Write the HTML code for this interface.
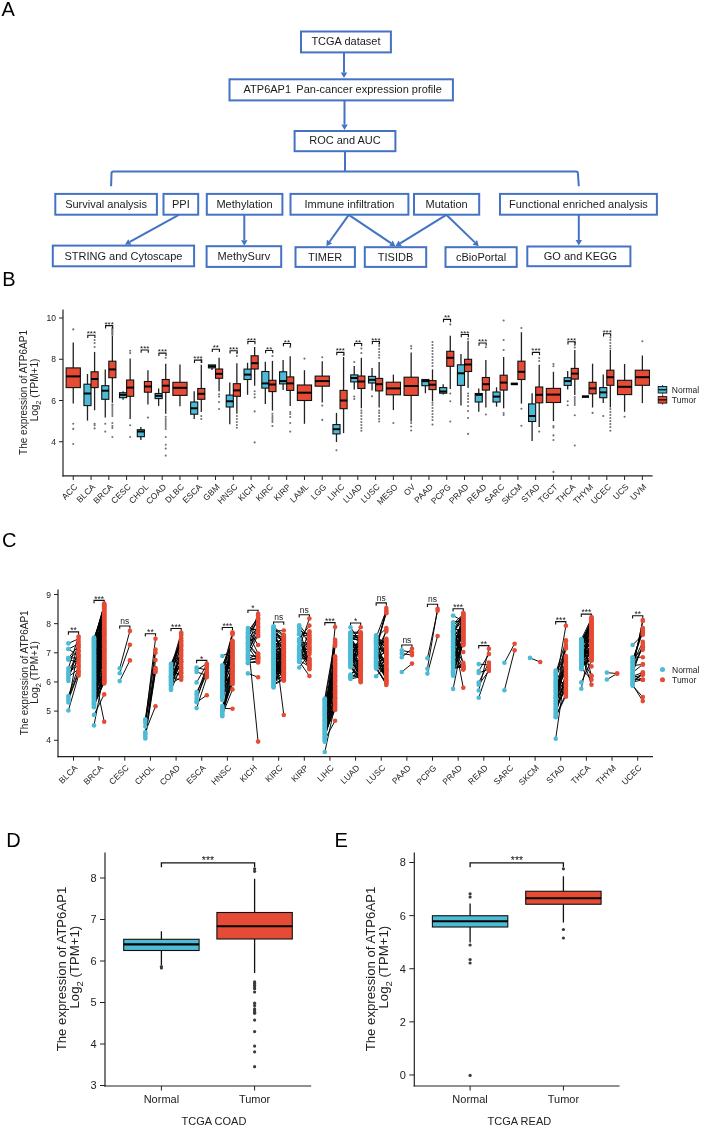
<!DOCTYPE html>
<html><head><meta charset="utf-8"><title>Figure</title>
<style>html,body{margin:0;padding:0;background:#fff;}svg{display:block;will-change:transform;}text{font-family:"Liberation Sans", sans-serif;}</style>
</head><body>
<svg width="711" height="1127" viewBox="0 0 711 1127">
<rect width="711" height="1127" fill="#fff"/>
<text x="1.5" y="15.7" font-size="20" fill="#000">A</text>
<text x="2.2" y="286.1" font-size="20" fill="#000">B</text>
<text x="2.0" y="547.0" font-size="20" fill="#000">C</text>
<text x="6.3" y="847.0" font-size="20" fill="#000">D</text>
<text x="334.5" y="847.0" font-size="20" fill="#000">E</text>
<rect x="301" y="31.5" width="89.89999999999998" height="20.9" fill="#fff" stroke="#4472C4" stroke-width="2"/>
<text x="345.95" y="44.85" font-size="11" fill="#1c1c1c" text-anchor="middle" style="white-space:pre">TCGA dataset</text>
<rect x="229.5" y="79.3" width="223.39999999999998" height="21.10000000000001" fill="#fff" stroke="#4472C4" stroke-width="2"/>
<text x="342.7" y="92.75" font-size="11" fill="#1c1c1c" text-anchor="middle" style="white-space:pre">ATP6AP1  Pan-cancer expression profile</text>
<rect x="294.6" y="131" width="100.79999999999995" height="20.200000000000017" fill="#fff" stroke="#4472C4" stroke-width="2"/>
<text x="345.0" y="144.00000000000003" font-size="11" fill="#1c1c1c" text-anchor="middle" style="white-space:pre">ROC and AUC</text>
<rect x="55.3" y="193.9" width="101.60000000000001" height="20.80000000000001" fill="#fff" stroke="#4472C4" stroke-width="2"/>
<text x="106.1" y="208.0" font-size="11" fill="#1c1c1c" text-anchor="middle" style="white-space:pre">Survival analysis</text>
<rect x="163.5" y="193.9" width="34.70000000000002" height="20.80000000000001" fill="#fff" stroke="#4472C4" stroke-width="2"/>
<text x="180.85000000000002" y="208.0" font-size="11" fill="#1c1c1c" text-anchor="middle" style="white-space:pre">PPI</text>
<rect x="206.8" y="193.9" width="75.59999999999997" height="20.80000000000001" fill="#fff" stroke="#4472C4" stroke-width="2"/>
<text x="244.6" y="208.0" font-size="11" fill="#1c1c1c" text-anchor="middle" style="white-space:pre">Methylation</text>
<rect x="290.5" y="193.9" width="117.89999999999998" height="20.80000000000001" fill="#fff" stroke="#4472C4" stroke-width="2"/>
<text x="349.45" y="208.0" font-size="11" fill="#1c1c1c" text-anchor="middle" style="white-space:pre">Immune infiltration</text>
<rect x="414" y="193.9" width="65.19999999999999" height="20.80000000000001" fill="#fff" stroke="#4472C4" stroke-width="2"/>
<text x="446.6" y="208.0" font-size="11" fill="#1c1c1c" text-anchor="middle" style="white-space:pre">Mutation</text>
<rect x="500" y="193.9" width="156.89999999999998" height="20.80000000000001" fill="#fff" stroke="#4472C4" stroke-width="2"/>
<text x="578.45" y="208.0" font-size="11" fill="#1c1c1c" text-anchor="middle" style="white-space:pre">Functional enriched analysis</text>
<rect x="52.8" y="245.6" width="141.3" height="20.69999999999996" fill="#fff" stroke="#4472C4" stroke-width="2"/>
<text x="123.44999999999999" y="259.65" font-size="11" fill="#1c1c1c" text-anchor="middle" style="white-space:pre">STRING and Cytoscape</text>
<rect x="206.6" y="246.2" width="74.6" height="20.69999999999999" fill="#fff" stroke="#4472C4" stroke-width="2"/>
<text x="243.89999999999998" y="260.24999999999994" font-size="11" fill="#1c1c1c" text-anchor="middle" style="white-space:pre">MethySurv</text>
<rect x="295.5" y="247.2" width="59.39999999999998" height="19.69999999999999" fill="#fff" stroke="#4472C4" stroke-width="2"/>
<text x="325.2" y="260.74999999999994" font-size="11" fill="#1c1c1c" text-anchor="middle" style="white-space:pre">TIMER</text>
<rect x="364.8" y="247.2" width="61.39999999999998" height="19.69999999999999" fill="#fff" stroke="#4472C4" stroke-width="2"/>
<text x="395.5" y="260.74999999999994" font-size="11" fill="#1c1c1c" text-anchor="middle" style="white-space:pre">TISIDB</text>
<rect x="445.5" y="247.2" width="71.19999999999993" height="19.69999999999999" fill="#fff" stroke="#4472C4" stroke-width="2"/>
<text x="481.09999999999997" y="260.74999999999994" font-size="11" fill="#1c1c1c" text-anchor="middle" style="white-space:pre">cBioPortal</text>
<rect x="527.3" y="246.5" width="103.10000000000002" height="19.69999999999999" fill="#fff" stroke="#4472C4" stroke-width="2"/>
<text x="580.4499999999999" y="260.05" font-size="11" fill="#1c1c1c" text-anchor="middle" style="white-space:pre">GO and KEGG</text>
<line x1="344" y1="52.5" x2="344.0" y2="72.5" stroke="#4472C4" stroke-width="2"/>
<polygon points="344,78 340.8,72.5 347.2,72.5" fill="#4472C4"/>
<line x1="344.5" y1="100.5" x2="344.5" y2="124.5" stroke="#4472C4" stroke-width="2"/>
<polygon points="344.5,130 341.3,124.5 347.7,124.5" fill="#4472C4"/>
<line x1="345" y1="151" x2="345" y2="172" stroke="#4472C4" stroke-width="2"/>
<path d="M111.1,186.2 L111.5,173.3 Q111.6,171.5 113.4,171.5 L576,171.5 Q577.8,171.5 577.9,173.3 L578.8,186.2" fill="none" stroke="#4472C4" stroke-width="2"/>
<line x1="244.3" y1="214.8" x2="244.3" y2="240.2" stroke="#4472C4" stroke-width="2"/>
<polygon points="244.3,245.7 241.10000000000002,240.2 247.5,240.2" fill="#4472C4"/>
<line x1="578.8" y1="214.8" x2="578.8" y2="240.0" stroke="#4472C4" stroke-width="2"/>
<polygon points="578.8,245.5 575.5999999999999,240.0 582.0,240.0" fill="#4472C4"/>
<line x1="178.8" y1="214.8" x2="129.81123582954348" y2="241.9350403769443" stroke="#4472C4" stroke-width="2"/>
<polygon points="125,244.6 128.26071386703836,239.13577589430082 131.3617577920486,244.73430485958778" fill="#4472C4"/>
<line x1="348.8" y1="214.8" x2="329.5035406161113" y2="241.72928109573803" stroke="#4472C4" stroke-width="2"/>
<polygon points="326.3,246.2 326.90239507181343,239.86540291909145 332.1046861604092,243.5931592723846" fill="#4472C4"/>
<line x1="348.8" y1="214.8" x2="390.93578784244596" y2="243.13112929877522" stroke="#4472C4" stroke-width="2"/>
<polygon points="395.5,246.2 389.1502630708243,245.78667091771575 392.72131261406764,240.4755876798347" fill="#4472C4"/>
<line x1="446.3" y1="214.8" x2="400.1784199098175" y2="243.30822076440415" stroke="#4472C4" stroke-width="2"/>
<polygon points="395.5,246.2 398.49593017274356,240.58623099869217 401.8609096468914,246.03021053011614" fill="#4472C4"/>
<line x1="446.3" y1="214.8" x2="474.8445504354676" y2="242.3784271899595" stroke="#4472C4" stroke-width="2"/>
<polygon points="478.8,246.2 472.62108989144406,244.67977966386923 477.0680109794912,240.07707471604976" fill="#4472C4"/>
<line x1="73.25" y1="342.6" x2="73.25" y2="403.6" stroke="#222" stroke-width="1.3"/><rect x="66.15" y="367.9" width="14.199999999999989" height="19.700000000000045" fill="#E64B35" stroke="#111" stroke-width="1.1"/><line x1="66.15" y1="376.4" x2="80.35" y2="376.4" stroke="#000" stroke-width="2.0"/><circle cx="73.25" cy="329.4" r="1.05" fill="#707070"/><circle cx="73.25" cy="423.8" r="1.05" fill="#707070"/><circle cx="73.25" cy="428.9" r="1.05" fill="#707070"/><circle cx="73.25" cy="444" r="1.05" fill="#707070"/>
<line x1="87.485" y1="374" x2="87.485" y2="420.6" stroke="#222" stroke-width="1.3"/><rect x="83.935" y="384.2" width="7.099999999999994" height="21.400000000000034" fill="#4DBBD5" stroke="#111" stroke-width="1.1"/><line x1="83.935" y1="393.5" x2="91.035" y2="393.5" stroke="#000" stroke-width="2.0"/>
<line x1="94.585" y1="351.9" x2="94.585" y2="410.2" stroke="#222" stroke-width="1.3"/><rect x="91.035" y="371.8" width="7.099999999999994" height="15.800000000000011" fill="#E64B35" stroke="#111" stroke-width="1.1"/><line x1="91.035" y1="379" x2="98.13499999999999" y2="379" stroke="#000" stroke-width="2.0"/><circle cx="94.585" cy="340" r="1.05" fill="#707070"/><circle cx="94.585" cy="343" r="1.05" fill="#707070"/><circle cx="94.585" cy="347" r="1.05" fill="#707070"/><circle cx="94.585" cy="423.8" r="1.05" fill="#707070"/><circle cx="94.585" cy="425.3" r="1.05" fill="#707070"/><circle cx="94.585" cy="428.4" r="1.05" fill="#707070"/>
<path d="M87.785,338.1 L87.785,335.3 L94.88499999999999,335.3 L94.88499999999999,338.1" fill="none" stroke="#111" stroke-width="1.1"/>
<text x="91.335" y="336.3" font-size="8" fill="#111" text-anchor="middle">***</text>
<line x1="105.27" y1="369.4" x2="105.27" y2="417.6" stroke="#222" stroke-width="1.3"/><rect x="101.72" y="385.7" width="7.099999999999994" height="13.600000000000023" fill="#4DBBD5" stroke="#111" stroke-width="1.1"/><line x1="101.72" y1="390.7" x2="108.82" y2="390.7" stroke="#000" stroke-width="2.0"/><circle cx="105.27" cy="423.8" r="1.05" fill="#707070"/><circle cx="105.27" cy="431.6" r="1.05" fill="#707070"/>
<line x1="112.36999999999999" y1="336" x2="112.36999999999999" y2="402.8" stroke="#222" stroke-width="1.3"/><rect x="108.82" y="361.2" width="7.099999999999994" height="16.5" fill="#E64B35" stroke="#111" stroke-width="1.1"/><line x1="108.82" y1="369.4" x2="115.91999999999999" y2="369.4" stroke="#000" stroke-width="2.0"/><circle cx="112.36999999999999" cy="328" r="1.05" fill="#707070"/><circle cx="112.36999999999999" cy="329" r="1.05" fill="#707070"/><circle cx="112.36999999999999" cy="330" r="1.05" fill="#707070"/><circle cx="112.36999999999999" cy="331" r="1.05" fill="#707070"/><circle cx="112.36999999999999" cy="332" r="1.05" fill="#707070"/><circle cx="112.36999999999999" cy="333" r="1.05" fill="#707070"/><circle cx="112.36999999999999" cy="334" r="1.05" fill="#707070"/><circle cx="112.36999999999999" cy="335" r="1.05" fill="#707070"/><circle cx="112.36999999999999" cy="404.5" r="1.05" fill="#707070"/><circle cx="112.36999999999999" cy="406" r="1.05" fill="#707070"/><circle cx="112.36999999999999" cy="408" r="1.05" fill="#707070"/><circle cx="112.36999999999999" cy="410" r="1.05" fill="#707070"/><circle cx="112.36999999999999" cy="412" r="1.05" fill="#707070"/><circle cx="112.36999999999999" cy="414" r="1.05" fill="#707070"/><circle cx="112.36999999999999" cy="416" r="1.05" fill="#707070"/><circle cx="112.36999999999999" cy="423" r="1.05" fill="#707070"/><circle cx="112.36999999999999" cy="426" r="1.05" fill="#707070"/><circle cx="112.36999999999999" cy="428" r="1.05" fill="#707070"/><circle cx="112.36999999999999" cy="437" r="1.05" fill="#707070"/>
<path d="M105.57,328.40000000000003 L105.57,325.6 L112.66999999999999,325.6 L112.66999999999999,328.40000000000003" fill="none" stroke="#111" stroke-width="1.1"/>
<text x="109.11999999999999" y="326.6" font-size="8" fill="#111" text-anchor="middle">***</text>
<line x1="123.055" y1="391.2" x2="123.055" y2="399.7" stroke="#222" stroke-width="1.3"/><rect x="119.50500000000001" y="392.7" width="7.099999999999994" height="5.0" fill="#4DBBD5" stroke="#111" stroke-width="1.1"/><line x1="119.50500000000001" y1="394.8" x2="126.605" y2="394.8" stroke="#000" stroke-width="2.0"/>
<line x1="130.155" y1="358.6" x2="130.155" y2="419.1" stroke="#222" stroke-width="1.3"/><rect x="126.605" y="380" width="7.1000000000000085" height="16.30000000000001" fill="#E64B35" stroke="#111" stroke-width="1.1"/><line x1="126.605" y1="387.6" x2="133.705" y2="387.6" stroke="#000" stroke-width="2.0"/><circle cx="130.155" cy="350.8" r="1.05" fill="#707070"/><circle cx="130.155" cy="353.1" r="1.05" fill="#707070"/><circle cx="130.155" cy="425.3" r="1.05" fill="#707070"/><circle cx="130.155" cy="437" r="1.05" fill="#707070"/>
<line x1="140.83999999999997" y1="426.9" x2="140.83999999999997" y2="440" stroke="#222" stroke-width="1.3"/><rect x="137.29" y="429.7" width="7.099999999999994" height="7.0" fill="#4DBBD5" stroke="#111" stroke-width="1.1"/><line x1="137.29" y1="431.5" x2="144.39" y2="431.5" stroke="#000" stroke-width="2.0"/>
<line x1="147.94" y1="370.2" x2="147.94" y2="404.4" stroke="#222" stroke-width="1.3"/><rect x="144.39" y="381.5" width="7.099999999999994" height="10.699999999999989" fill="#E64B35" stroke="#111" stroke-width="1.1"/><line x1="144.39" y1="386.5" x2="151.48999999999998" y2="386.5" stroke="#000" stroke-width="2.0"/><circle cx="147.94" cy="417.6" r="1.05" fill="#707070"/>
<path d="M141.14,352.8 L141.14,350 L148.24,350 L148.24,352.8" fill="none" stroke="#111" stroke-width="1.1"/>
<text x="144.69" y="351.0" font-size="8" fill="#111" text-anchor="middle">***</text>
<line x1="158.625" y1="388.4" x2="158.625" y2="405.9" stroke="#222" stroke-width="1.3"/><rect x="155.07500000000002" y="393.5" width="7.099999999999994" height="5.100000000000023" fill="#4DBBD5" stroke="#111" stroke-width="1.1"/><line x1="155.07500000000002" y1="395.8" x2="162.175" y2="395.8" stroke="#000" stroke-width="2.0"/>
<line x1="165.72500000000002" y1="363.7" x2="165.72500000000002" y2="413.7" stroke="#222" stroke-width="1.3"/><rect x="162.175" y="379.5" width="7.099999999999994" height="12.899999999999977" fill="#E64B35" stroke="#111" stroke-width="1.1"/><line x1="162.175" y1="385.7" x2="169.275" y2="385.7" stroke="#000" stroke-width="2.0"/><circle cx="165.72500000000002" cy="357.8" r="1.05" fill="#707070"/><circle cx="165.72500000000002" cy="416.8" r="1.05" fill="#707070"/><circle cx="165.72500000000002" cy="419" r="1.05" fill="#707070"/><circle cx="165.72500000000002" cy="421" r="1.05" fill="#707070"/><circle cx="165.72500000000002" cy="423" r="1.05" fill="#707070"/><circle cx="165.72500000000002" cy="425" r="1.05" fill="#707070"/><circle cx="165.72500000000002" cy="427" r="1.05" fill="#707070"/><circle cx="165.72500000000002" cy="429" r="1.05" fill="#707070"/><circle cx="165.72500000000002" cy="437" r="1.05" fill="#707070"/><circle cx="165.72500000000002" cy="444.8" r="1.05" fill="#707070"/><circle cx="165.72500000000002" cy="448.6" r="1.05" fill="#707070"/><circle cx="165.72500000000002" cy="455.6" r="1.05" fill="#707070"/>
<path d="M158.925,355.90000000000003 L158.925,353.1 L166.02500000000003,353.1 L166.02500000000003,355.90000000000003" fill="none" stroke="#111" stroke-width="1.1"/>
<text x="162.47500000000002" y="354.1" font-size="8" fill="#111" text-anchor="middle">***</text>
<line x1="179.96" y1="364.5" x2="179.96" y2="406.2" stroke="#222" stroke-width="1.3"/><rect x="172.86" y="382.3" width="14.199999999999989" height="13.099999999999966" fill="#E64B35" stroke="#111" stroke-width="1.1"/><line x1="172.86" y1="387.8" x2="187.06" y2="387.8" stroke="#000" stroke-width="2.0"/>
<line x1="194.195" y1="391.2" x2="194.195" y2="419.1" stroke="#222" stroke-width="1.3"/><rect x="190.645" y="402" width="7.099999999999994" height="12.199999999999989" fill="#4DBBD5" stroke="#111" stroke-width="1.1"/><line x1="190.645" y1="408.3" x2="197.745" y2="408.3" stroke="#000" stroke-width="2.0"/>
<line x1="201.29500000000002" y1="364.8" x2="201.29500000000002" y2="412" stroke="#222" stroke-width="1.3"/><rect x="197.745" y="388.5" width="7.099999999999994" height="10.800000000000011" fill="#E64B35" stroke="#111" stroke-width="1.1"/><line x1="197.745" y1="393.8" x2="204.845" y2="393.8" stroke="#000" stroke-width="2.0"/><circle cx="201.29500000000002" cy="360" r="1.05" fill="#707070"/><circle cx="201.29500000000002" cy="362" r="1.05" fill="#707070"/><circle cx="201.29500000000002" cy="416" r="1.05" fill="#707070"/><circle cx="201.29500000000002" cy="419" r="1.05" fill="#707070"/>
<path d="M194.495,362.90000000000003 L194.495,360.1 L201.59500000000003,360.1 L201.59500000000003,362.90000000000003" fill="none" stroke="#111" stroke-width="1.1"/>
<text x="198.04500000000002" y="361.1" font-size="8" fill="#111" text-anchor="middle">***</text>
<line x1="211.98000000000002" y1="364.9" x2="211.98000000000002" y2="369.9" stroke="#222" stroke-width="1.3"/><rect x="208.43" y="364.9" width="7.099999999999994" height="3.0" fill="#4DBBD5" stroke="#111" stroke-width="1.1"/><line x1="208.43" y1="366.3" x2="215.53" y2="366.3" stroke="#000" stroke-width="2.0"/>
<line x1="219.07999999999998" y1="357.8" x2="219.07999999999998" y2="391.2" stroke="#222" stroke-width="1.3"/><rect x="215.53" y="369" width="7.099999999999994" height="9.300000000000011" fill="#E64B35" stroke="#111" stroke-width="1.1"/><line x1="215.53" y1="373.8" x2="222.63" y2="373.8" stroke="#000" stroke-width="2.0"/><circle cx="219.07999999999998" cy="394.3" r="1.05" fill="#707070"/><circle cx="219.07999999999998" cy="396.6" r="1.05" fill="#707070"/><circle cx="219.07999999999998" cy="402" r="1.05" fill="#707070"/><circle cx="219.07999999999998" cy="409" r="1.05" fill="#707070"/>
<path d="M212.28,352.1 L212.28,349.3 L219.38000000000002,349.3 L219.38000000000002,352.1" fill="none" stroke="#111" stroke-width="1.1"/>
<text x="215.83" y="350.3" font-size="8" fill="#111" text-anchor="middle">**</text>
<line x1="229.765" y1="382.6" x2="229.765" y2="424.3" stroke="#222" stroke-width="1.3"/><rect x="226.215" y="395.1" width="7.099999999999994" height="11.899999999999977" fill="#4DBBD5" stroke="#111" stroke-width="1.1"/><line x1="226.215" y1="401.3" x2="233.315" y2="401.3" stroke="#000" stroke-width="2.0"/>
<line x1="236.865" y1="363.2" x2="236.865" y2="413.7" stroke="#222" stroke-width="1.3"/><rect x="233.315" y="383.7" width="7.099999999999994" height="12.600000000000023" fill="#E64B35" stroke="#111" stroke-width="1.1"/><line x1="233.315" y1="390.4" x2="240.415" y2="390.4" stroke="#000" stroke-width="2.0"/><circle cx="236.865" cy="353" r="1.05" fill="#707070"/><circle cx="236.865" cy="356" r="1.05" fill="#707070"/><circle cx="236.865" cy="416" r="1.05" fill="#707070"/><circle cx="236.865" cy="419" r="1.05" fill="#707070"/><circle cx="236.865" cy="422" r="1.05" fill="#707070"/><circle cx="236.865" cy="425" r="1.05" fill="#707070"/><circle cx="236.865" cy="427.7" r="1.05" fill="#707070"/>
<path d="M230.065,353.6 L230.065,350.8 L237.16500000000002,350.8 L237.16500000000002,353.6" fill="none" stroke="#111" stroke-width="1.1"/>
<text x="233.615" y="351.8" font-size="8" fill="#111" text-anchor="middle">***</text>
<line x1="247.55" y1="362.8" x2="247.55" y2="394.8" stroke="#222" stroke-width="1.3"/><rect x="244.0" y="369.1" width="7.099999999999994" height="10.399999999999977" fill="#4DBBD5" stroke="#111" stroke-width="1.1"/><line x1="244.0" y1="374.6" x2="251.1" y2="374.6" stroke="#000" stroke-width="2.0"/>
<line x1="254.64999999999998" y1="346.9" x2="254.64999999999998" y2="385.7" stroke="#222" stroke-width="1.3"/><rect x="251.1" y="355.8" width="7.099999999999994" height="13.199999999999989" fill="#E64B35" stroke="#111" stroke-width="1.1"/><line x1="251.1" y1="363.2" x2="258.2" y2="363.2" stroke="#000" stroke-width="2.0"/><circle cx="254.64999999999998" cy="391.2" r="1.05" fill="#707070"/><circle cx="254.64999999999998" cy="394.3" r="1.05" fill="#707070"/><circle cx="254.64999999999998" cy="397.4" r="1.05" fill="#707070"/><circle cx="254.64999999999998" cy="411.4" r="1.05" fill="#707070"/><circle cx="254.64999999999998" cy="442.4" r="1.05" fill="#707070"/>
<path d="M247.85,344.3 L247.85,341.5 L254.95000000000002,341.5 L254.95000000000002,344.3" fill="none" stroke="#111" stroke-width="1.1"/>
<text x="251.4" y="342.5" font-size="8" fill="#111" text-anchor="middle">***</text>
<line x1="265.335" y1="361.7" x2="265.335" y2="404.1" stroke="#222" stroke-width="1.3"/><rect x="261.78499999999997" y="371.5" width="7.100000000000023" height="16.600000000000023" fill="#4DBBD5" stroke="#111" stroke-width="1.1"/><line x1="261.78499999999997" y1="383.4" x2="268.885" y2="383.4" stroke="#000" stroke-width="2.0"/>
<line x1="272.435" y1="360.9" x2="272.435" y2="410.6" stroke="#222" stroke-width="1.3"/><rect x="268.885" y="380.3" width="7.100000000000023" height="11.300000000000011" fill="#E64B35" stroke="#111" stroke-width="1.1"/><line x1="268.885" y1="384.5" x2="275.985" y2="384.5" stroke="#000" stroke-width="2.0"/><circle cx="272.435" cy="356" r="1.05" fill="#707070"/><circle cx="272.435" cy="413.7" r="1.05" fill="#707070"/><circle cx="272.435" cy="416" r="1.05" fill="#707070"/><circle cx="272.435" cy="418" r="1.05" fill="#707070"/><circle cx="272.435" cy="420" r="1.05" fill="#707070"/><circle cx="272.435" cy="422" r="1.05" fill="#707070"/><circle cx="272.435" cy="426" r="1.05" fill="#707070"/>
<path d="M265.635,353.3 L265.635,350.5 L272.735,350.5 L272.735,353.3" fill="none" stroke="#111" stroke-width="1.1"/>
<text x="269.185" y="351.5" font-size="8" fill="#111" text-anchor="middle">**</text>
<line x1="283.12" y1="360.1" x2="283.12" y2="390.1" stroke="#222" stroke-width="1.3"/><rect x="279.57" y="371.8" width="7.100000000000023" height="12.099999999999966" fill="#4DBBD5" stroke="#111" stroke-width="1.1"/><line x1="279.57" y1="381.1" x2="286.67" y2="381.1" stroke="#000" stroke-width="2.0"/>
<line x1="290.22" y1="356.2" x2="290.22" y2="405.9" stroke="#222" stroke-width="1.3"/><rect x="286.67" y="376.9" width="7.100000000000023" height="13.5" fill="#E64B35" stroke="#111" stroke-width="1.1"/><line x1="286.67" y1="383.4" x2="293.77000000000004" y2="383.4" stroke="#000" stroke-width="2.0"/><circle cx="290.22" cy="346.9" r="1.05" fill="#707070"/><circle cx="290.22" cy="412" r="1.05" fill="#707070"/><circle cx="290.22" cy="414" r="1.05" fill="#707070"/><circle cx="290.22" cy="417" r="1.05" fill="#707070"/><circle cx="290.22" cy="423" r="1.05" fill="#707070"/><circle cx="290.22" cy="431.6" r="1.05" fill="#707070"/>
<path d="M283.42,346.3 L283.42,343.5 L290.52000000000004,343.5 L290.52000000000004,346.3" fill="none" stroke="#111" stroke-width="1.1"/>
<text x="286.97" y="344.5" font-size="8" fill="#111" text-anchor="middle">**</text>
<line x1="304.45500000000004" y1="370.2" x2="304.45500000000004" y2="423.8" stroke="#222" stroke-width="1.3"/><rect x="297.355" y="385" width="14.200000000000045" height="15.5" fill="#E64B35" stroke="#111" stroke-width="1.1"/><line x1="297.355" y1="392.7" x2="311.55500000000006" y2="392.7" stroke="#000" stroke-width="2.0"/><circle cx="304.45500000000004" cy="358.6" r="1.05" fill="#707070"/>
<line x1="322.24" y1="361.2" x2="322.24" y2="402.5" stroke="#222" stroke-width="1.3"/><rect x="315.14" y="376.1" width="14.200000000000045" height="10.099999999999966" fill="#E64B35" stroke="#111" stroke-width="1.1"/><line x1="315.14" y1="381.1" x2="329.34000000000003" y2="381.1" stroke="#000" stroke-width="2.0"/><circle cx="322.24" cy="357.3" r="1.05" fill="#707070"/><circle cx="322.24" cy="405.6" r="1.05" fill="#707070"/><circle cx="322.24" cy="419.9" r="1.05" fill="#707070"/>
<line x1="336.47499999999997" y1="412.9" x2="336.47499999999997" y2="442" stroke="#222" stroke-width="1.3"/><rect x="332.92499999999995" y="424.6" width="7.100000000000023" height="9.299999999999955" fill="#4DBBD5" stroke="#111" stroke-width="1.1"/><line x1="332.92499999999995" y1="429.2" x2="340.025" y2="429.2" stroke="#000" stroke-width="2.0"/><circle cx="336.47499999999997" cy="450.2" r="1.05" fill="#707070"/>
<line x1="343.575" y1="357" x2="343.575" y2="433.1" stroke="#222" stroke-width="1.3"/><rect x="340.025" y="390.4" width="7.100000000000023" height="18.30000000000001" fill="#E64B35" stroke="#111" stroke-width="1.1"/><line x1="340.025" y1="400.5" x2="347.125" y2="400.5" stroke="#000" stroke-width="2.0"/><circle cx="343.575" cy="355" r="1.05" fill="#707070"/>
<path d="M336.775,355.2 L336.775,352.4 L343.875,352.4 L343.875,355.2" fill="none" stroke="#111" stroke-width="1.1"/>
<text x="340.325" y="353.4" font-size="8" fill="#111" text-anchor="middle">***</text>
<line x1="354.26" y1="366" x2="354.26" y2="389.6" stroke="#222" stroke-width="1.3"/><rect x="350.71" y="374.9" width="7.100000000000023" height="7.0" fill="#4DBBD5" stroke="#111" stroke-width="1.1"/><line x1="350.71" y1="378" x2="357.81" y2="378" stroke="#000" stroke-width="2.0"/><circle cx="354.26" cy="362" r="1.05" fill="#707070"/><circle cx="354.26" cy="396.6" r="1.05" fill="#707070"/><circle cx="354.26" cy="399" r="1.05" fill="#707070"/>
<line x1="361.36" y1="357.8" x2="361.36" y2="408.3" stroke="#222" stroke-width="1.3"/><rect x="357.81" y="376" width="7.100000000000023" height="12.5" fill="#E64B35" stroke="#111" stroke-width="1.1"/><line x1="357.81" y1="381.5" x2="364.91" y2="381.5" stroke="#000" stroke-width="2.0"/><circle cx="361.36" cy="348.5" r="1.05" fill="#707070"/><circle cx="361.36" cy="353" r="1.05" fill="#707070"/><circle cx="361.36" cy="410.6" r="1.05" fill="#707070"/><circle cx="361.36" cy="413" r="1.05" fill="#707070"/><circle cx="361.36" cy="416" r="1.05" fill="#707070"/><circle cx="361.36" cy="419" r="1.05" fill="#707070"/><circle cx="361.36" cy="422" r="1.05" fill="#707070"/><circle cx="361.36" cy="425" r="1.05" fill="#707070"/><circle cx="361.36" cy="428" r="1.05" fill="#707070"/><circle cx="361.36" cy="430.8" r="1.05" fill="#707070"/>
<path d="M354.56,346.3 L354.56,343.5 L361.66,343.5 L361.66,346.3" fill="none" stroke="#111" stroke-width="1.1"/>
<text x="358.11" y="344.5" font-size="8" fill="#111" text-anchor="middle">**</text>
<line x1="372.045" y1="367.9" x2="372.045" y2="390.4" stroke="#222" stroke-width="1.3"/><rect x="368.495" y="376.4" width="7.100000000000023" height="6.600000000000023" fill="#4DBBD5" stroke="#111" stroke-width="1.1"/><line x1="368.495" y1="379.8" x2="375.595" y2="379.8" stroke="#000" stroke-width="2.0"/><circle cx="372.045" cy="396.3" r="1.05" fill="#707070"/>
<line x1="379.14500000000004" y1="362.1" x2="379.14500000000004" y2="407.5" stroke="#222" stroke-width="1.3"/><rect x="375.595" y="378.4" width="7.100000000000023" height="12.5" fill="#E64B35" stroke="#111" stroke-width="1.1"/><line x1="375.595" y1="384.2" x2="382.69500000000005" y2="384.2" stroke="#000" stroke-width="2.0"/><circle cx="379.14500000000004" cy="343.8" r="1.05" fill="#707070"/><circle cx="379.14500000000004" cy="346" r="1.05" fill="#707070"/><circle cx="379.14500000000004" cy="349" r="1.05" fill="#707070"/><circle cx="379.14500000000004" cy="352" r="1.05" fill="#707070"/><circle cx="379.14500000000004" cy="355" r="1.05" fill="#707070"/><circle cx="379.14500000000004" cy="357.8" r="1.05" fill="#707070"/><circle cx="379.14500000000004" cy="410.6" r="1.05" fill="#707070"/><circle cx="379.14500000000004" cy="413" r="1.05" fill="#707070"/><circle cx="379.14500000000004" cy="416" r="1.05" fill="#707070"/><circle cx="379.14500000000004" cy="419" r="1.05" fill="#707070"/><circle cx="379.14500000000004" cy="421.5" r="1.05" fill="#707070"/>
<path d="M372.345,344.3 L372.345,341.5 L379.44500000000005,341.5 L379.44500000000005,344.3" fill="none" stroke="#111" stroke-width="1.1"/>
<text x="375.89500000000004" y="342.5" font-size="8" fill="#111" text-anchor="middle">***</text>
<line x1="393.38" y1="374.6" x2="393.38" y2="410.1" stroke="#222" stroke-width="1.3"/><rect x="386.28" y="382.2" width="14.200000000000045" height="12.600000000000023" fill="#E64B35" stroke="#111" stroke-width="1.1"/><line x1="386.28" y1="388.4" x2="400.48" y2="388.4" stroke="#000" stroke-width="2.0"/><circle cx="393.38" cy="423" r="1.05" fill="#707070"/>
<line x1="411.165" y1="352.4" x2="411.165" y2="421.5" stroke="#222" stroke-width="1.3"/><rect x="404.065" y="377.2" width="14.200000000000045" height="18.19999999999999" fill="#E64B35" stroke="#111" stroke-width="1.1"/><line x1="404.065" y1="386" x2="418.26500000000004" y2="386" stroke="#000" stroke-width="2.0"/><circle cx="411.165" cy="346" r="1.05" fill="#707070"/><circle cx="411.165" cy="348.5" r="1.05" fill="#707070"/><circle cx="411.165" cy="423" r="1.05" fill="#707070"/><circle cx="411.165" cy="426.5" r="1.05" fill="#707070"/><circle cx="411.165" cy="430.5" r="1.05" fill="#707070"/>
<line x1="425.4" y1="379.5" x2="425.4" y2="393.2" stroke="#222" stroke-width="1.3"/><rect x="421.84999999999997" y="379.5" width="7.100000000000023" height="6.199999999999989" fill="#4DBBD5" stroke="#111" stroke-width="1.1"/><line x1="421.84999999999997" y1="381.1" x2="428.95" y2="381.1" stroke="#000" stroke-width="2.0"/>
<line x1="432.5" y1="369.4" x2="432.5" y2="401.3" stroke="#222" stroke-width="1.3"/><rect x="428.95" y="380.6" width="7.100000000000023" height="9.0" fill="#E64B35" stroke="#111" stroke-width="1.1"/><line x1="428.95" y1="384.7" x2="436.05" y2="384.7" stroke="#000" stroke-width="2.0"/><circle cx="432.5" cy="342" r="1.05" fill="#707070"/><circle cx="432.5" cy="345" r="1.05" fill="#707070"/><circle cx="432.5" cy="348" r="1.05" fill="#707070"/><circle cx="432.5" cy="351" r="1.05" fill="#707070"/><circle cx="432.5" cy="354" r="1.05" fill="#707070"/><circle cx="432.5" cy="357" r="1.05" fill="#707070"/><circle cx="432.5" cy="360" r="1.05" fill="#707070"/><circle cx="432.5" cy="363" r="1.05" fill="#707070"/><circle cx="432.5" cy="366" r="1.05" fill="#707070"/><circle cx="432.5" cy="402.8" r="1.05" fill="#707070"/><circle cx="432.5" cy="405" r="1.05" fill="#707070"/><circle cx="432.5" cy="408" r="1.05" fill="#707070"/><circle cx="432.5" cy="411" r="1.05" fill="#707070"/><circle cx="432.5" cy="414" r="1.05" fill="#707070"/><circle cx="432.5" cy="417" r="1.05" fill="#707070"/><circle cx="432.5" cy="420" r="1.05" fill="#707070"/><circle cx="432.5" cy="424.6" r="1.05" fill="#707070"/>
<line x1="443.185" y1="384.2" x2="443.185" y2="394.6" stroke="#222" stroke-width="1.3"/><rect x="439.635" y="387.6" width="7.100000000000023" height="5.599999999999966" fill="#4DBBD5" stroke="#111" stroke-width="1.1"/><line x1="439.635" y1="391.5" x2="446.735" y2="391.5" stroke="#000" stroke-width="2.0"/>
<line x1="450.285" y1="335.7" x2="450.285" y2="388.9" stroke="#222" stroke-width="1.3"/><rect x="446.735" y="351.3" width="7.100000000000023" height="15.0" fill="#E64B35" stroke="#111" stroke-width="1.1"/><line x1="446.735" y1="357.8" x2="453.83500000000004" y2="357.8" stroke="#000" stroke-width="2.0"/><circle cx="450.285" cy="324.4" r="1.05" fill="#707070"/><circle cx="450.285" cy="393.5" r="1.05" fill="#707070"/><circle cx="450.285" cy="401.3" r="1.05" fill="#707070"/><circle cx="450.285" cy="421.5" r="1.05" fill="#707070"/>
<path d="M443.485,322.2 L443.485,319.4 L450.58500000000004,319.4 L450.58500000000004,322.2" fill="none" stroke="#111" stroke-width="1.1"/>
<text x="447.035" y="320.4" font-size="8" fill="#111" text-anchor="middle">**</text>
<line x1="460.96999999999997" y1="353.9" x2="460.96999999999997" y2="405.6" stroke="#222" stroke-width="1.3"/><rect x="457.41999999999996" y="364.8" width="7.100000000000023" height="20.599999999999966" fill="#4DBBD5" stroke="#111" stroke-width="1.1"/><line x1="457.41999999999996" y1="373.3" x2="464.52" y2="373.3" stroke="#000" stroke-width="2.0"/>
<line x1="468.07" y1="340.7" x2="468.07" y2="388.1" stroke="#222" stroke-width="1.3"/><rect x="464.52" y="359.3" width="7.100000000000023" height="12.199999999999989" fill="#E64B35" stroke="#111" stroke-width="1.1"/><line x1="464.52" y1="364.5" x2="471.62" y2="364.5" stroke="#000" stroke-width="2.0"/><circle cx="468.07" cy="339" r="1.05" fill="#707070"/><circle cx="468.07" cy="393.5" r="1.05" fill="#707070"/><circle cx="468.07" cy="396" r="1.05" fill="#707070"/><circle cx="468.07" cy="399" r="1.05" fill="#707070"/><circle cx="468.07" cy="402" r="1.05" fill="#707070"/><circle cx="468.07" cy="406" r="1.05" fill="#707070"/><circle cx="468.07" cy="411" r="1.05" fill="#707070"/><circle cx="468.07" cy="418" r="1.05" fill="#707070"/><circle cx="468.07" cy="433.9" r="1.05" fill="#707070"/>
<path d="M461.27,337.3 L461.27,334.5 L468.37,334.5 L468.37,337.3" fill="none" stroke="#111" stroke-width="1.1"/>
<text x="464.82" y="335.5" font-size="8" fill="#111" text-anchor="middle">***</text>
<line x1="478.755" y1="388.4" x2="478.755" y2="411.8" stroke="#222" stroke-width="1.3"/><rect x="475.205" y="393.5" width="7.100000000000023" height="8.5" fill="#4DBBD5" stroke="#111" stroke-width="1.1"/><line x1="475.205" y1="394.8" x2="482.305" y2="394.8" stroke="#000" stroke-width="2.0"/>
<line x1="485.855" y1="360.1" x2="485.855" y2="407.5" stroke="#222" stroke-width="1.3"/><rect x="482.305" y="377.5" width="7.100000000000023" height="12.600000000000023" fill="#E64B35" stroke="#111" stroke-width="1.1"/><line x1="482.305" y1="384.2" x2="489.40500000000003" y2="384.2" stroke="#000" stroke-width="2.0"/><circle cx="485.855" cy="347.2" r="1.05" fill="#707070"/><circle cx="485.855" cy="414.5" r="1.05" fill="#707070"/>
<path d="M479.055,345.8 L479.055,343 L486.15500000000003,343 L486.15500000000003,345.8" fill="none" stroke="#111" stroke-width="1.1"/>
<text x="482.605" y="344.0" font-size="8" fill="#111" text-anchor="middle">***</text>
<line x1="496.54" y1="387.3" x2="496.54" y2="406.7" stroke="#222" stroke-width="1.3"/><rect x="492.99" y="392" width="7.100000000000023" height="10" fill="#4DBBD5" stroke="#111" stroke-width="1.1"/><line x1="492.99" y1="396.6" x2="500.09000000000003" y2="396.6" stroke="#000" stroke-width="2.0"/>
<line x1="503.64000000000004" y1="357" x2="503.64000000000004" y2="408.3" stroke="#222" stroke-width="1.3"/><rect x="500.09000000000003" y="375.2" width="7.100000000000023" height="14.900000000000034" fill="#E64B35" stroke="#111" stroke-width="1.1"/><line x1="500.09000000000003" y1="382.6" x2="507.19000000000005" y2="382.6" stroke="#000" stroke-width="2.0"/><circle cx="503.64000000000004" cy="320.5" r="1.05" fill="#707070"/><circle cx="503.64000000000004" cy="340" r="1.05" fill="#707070"/><circle cx="503.64000000000004" cy="350" r="1.05" fill="#707070"/><circle cx="503.64000000000004" cy="413" r="1.05" fill="#707070"/><circle cx="503.64000000000004" cy="415" r="1.05" fill="#707070"/>
<line x1="514.325" y1="383.9" x2="514.325" y2="383.9" stroke="#222" stroke-width="1.3"/><line x1="510.775" y1="383.9" x2="517.875" y2="383.9" stroke="#000" stroke-width="2.6"/>
<line x1="521.425" y1="332.2" x2="521.425" y2="403.6" stroke="#222" stroke-width="1.3"/><rect x="517.875" y="361.2" width="7.100000000000023" height="18.30000000000001" fill="#E64B35" stroke="#111" stroke-width="1.1"/><line x1="517.875" y1="371.8" x2="524.975" y2="371.8" stroke="#000" stroke-width="2.0"/><circle cx="521.425" cy="328" r="1.05" fill="#707070"/><circle cx="521.425" cy="408.7" r="1.05" fill="#707070"/><circle cx="521.425" cy="425.8" r="1.05" fill="#707070"/>
<line x1="532.1100000000001" y1="393.2" x2="532.1100000000001" y2="440.9" stroke="#222" stroke-width="1.3"/><rect x="528.5600000000001" y="403.9" width="7.100000000000023" height="17.600000000000023" fill="#4DBBD5" stroke="#111" stroke-width="1.1"/><line x1="528.5600000000001" y1="416" x2="535.6600000000001" y2="416" stroke="#000" stroke-width="2.0"/>
<line x1="539.21" y1="364.8" x2="539.21" y2="426.9" stroke="#222" stroke-width="1.3"/><rect x="535.6600000000001" y="387" width="7.100000000000023" height="15.800000000000011" fill="#E64B35" stroke="#111" stroke-width="1.1"/><line x1="535.6600000000001" y1="394.8" x2="542.7600000000001" y2="394.8" stroke="#000" stroke-width="2.0"/><circle cx="539.21" cy="358" r="1.05" fill="#707070"/><circle cx="539.21" cy="361" r="1.05" fill="#707070"/><circle cx="539.21" cy="431.6" r="1.05" fill="#707070"/>
<path d="M532.4100000000001,355.2 L532.4100000000001,352.4 L539.51,352.4 L539.51,355.2" fill="none" stroke="#111" stroke-width="1.1"/>
<text x="535.96" y="353.4" font-size="8" fill="#111" text-anchor="middle">***</text>
<line x1="553.4449999999999" y1="371.8" x2="553.4449999999999" y2="421.1" stroke="#222" stroke-width="1.3"/><rect x="546.3449999999999" y="388.4" width="14.200000000000045" height="14.100000000000023" fill="#E64B35" stroke="#111" stroke-width="1.1"/><line x1="546.3449999999999" y1="394.6" x2="560.545" y2="394.6" stroke="#000" stroke-width="2.0"/><circle cx="553.4449999999999" cy="364" r="1.05" fill="#707070"/><circle cx="553.4449999999999" cy="366.3" r="1.05" fill="#707070"/><circle cx="553.4449999999999" cy="426.1" r="1.05" fill="#707070"/><circle cx="553.4449999999999" cy="427.5" r="1.05" fill="#707070"/><circle cx="553.4449999999999" cy="435.4" r="1.05" fill="#707070"/><circle cx="553.4449999999999" cy="440" r="1.05" fill="#707070"/><circle cx="553.4449999999999" cy="471.9" r="1.05" fill="#707070"/>
<line x1="567.6800000000001" y1="371" x2="567.6800000000001" y2="389.6" stroke="#222" stroke-width="1.3"/><rect x="564.13" y="377.7" width="7.100000000000023" height="7.699999999999989" fill="#4DBBD5" stroke="#111" stroke-width="1.1"/><line x1="564.13" y1="381.1" x2="571.23" y2="381.1" stroke="#000" stroke-width="2.0"/><circle cx="567.6800000000001" cy="401.3" r="1.05" fill="#707070"/><circle cx="567.6800000000001" cy="405.2" r="1.05" fill="#707070"/>
<line x1="574.78" y1="350" x2="574.78" y2="395.1" stroke="#222" stroke-width="1.3"/><rect x="571.23" y="368.4" width="7.100000000000023" height="10.700000000000045" fill="#E64B35" stroke="#111" stroke-width="1.1"/><line x1="571.23" y1="373.6" x2="578.33" y2="373.6" stroke="#000" stroke-width="2.0"/><circle cx="574.78" cy="342.5" r="1.05" fill="#707070"/><circle cx="574.78" cy="345" r="1.05" fill="#707070"/><circle cx="574.78" cy="347.5" r="1.05" fill="#707070"/><circle cx="574.78" cy="397" r="1.05" fill="#707070"/><circle cx="574.78" cy="399" r="1.05" fill="#707070"/><circle cx="574.78" cy="401" r="1.05" fill="#707070"/><circle cx="574.78" cy="403" r="1.05" fill="#707070"/><circle cx="574.78" cy="405" r="1.05" fill="#707070"/><circle cx="574.78" cy="415.2" r="1.05" fill="#707070"/><circle cx="574.78" cy="445.5" r="1.05" fill="#707070"/>
<path d="M567.98,344.6 L567.98,341.8 L575.0799999999999,341.8 L575.0799999999999,344.6" fill="none" stroke="#111" stroke-width="1.1"/>
<text x="571.53" y="342.8" font-size="8" fill="#111" text-anchor="middle">***</text>
<line x1="585.4649999999999" y1="396.6" x2="585.4649999999999" y2="396.6" stroke="#222" stroke-width="1.3"/><line x1="581.915" y1="396.6" x2="589.015" y2="396.6" stroke="#000" stroke-width="2.6"/>
<line x1="592.565" y1="363.7" x2="592.565" y2="407.5" stroke="#222" stroke-width="1.3"/><rect x="589.015" y="382.3" width="7.100000000000023" height="11.5" fill="#E64B35" stroke="#111" stroke-width="1.1"/><line x1="589.015" y1="388.4" x2="596.115" y2="388.4" stroke="#000" stroke-width="2.0"/><circle cx="592.565" cy="412.9" r="1.05" fill="#707070"/>
<line x1="603.25" y1="374.6" x2="603.25" y2="403.1" stroke="#222" stroke-width="1.3"/><rect x="599.6999999999999" y="387.6" width="7.100000000000023" height="10.099999999999966" fill="#4DBBD5" stroke="#111" stroke-width="1.1"/><line x1="599.6999999999999" y1="392.4" x2="606.8" y2="392.4" stroke="#000" stroke-width="2.0"/><circle cx="603.25" cy="416" r="1.05" fill="#707070"/>
<line x1="610.3499999999999" y1="350" x2="610.3499999999999" y2="407.5" stroke="#222" stroke-width="1.3"/><rect x="606.8" y="370.2" width="7.100000000000023" height="15.100000000000023" fill="#E64B35" stroke="#111" stroke-width="1.1"/><line x1="606.8" y1="377.2" x2="613.9" y2="377.2" stroke="#000" stroke-width="2.0"/><circle cx="610.3499999999999" cy="337.6" r="1.05" fill="#707070"/><circle cx="610.3499999999999" cy="340" r="1.05" fill="#707070"/><circle cx="610.3499999999999" cy="343" r="1.05" fill="#707070"/><circle cx="610.3499999999999" cy="346" r="1.05" fill="#707070"/><circle cx="610.3499999999999" cy="348.5" r="1.05" fill="#707070"/><circle cx="610.3499999999999" cy="409" r="1.05" fill="#707070"/><circle cx="610.3499999999999" cy="412" r="1.05" fill="#707070"/><circle cx="610.3499999999999" cy="415" r="1.05" fill="#707070"/><circle cx="610.3499999999999" cy="418" r="1.05" fill="#707070"/><circle cx="610.3499999999999" cy="421" r="1.05" fill="#707070"/><circle cx="610.3499999999999" cy="424" r="1.05" fill="#707070"/><circle cx="610.3499999999999" cy="427" r="1.05" fill="#707070"/><circle cx="610.3499999999999" cy="430.8" r="1.05" fill="#707070"/>
<path d="M603.55,336.5 L603.55,333.7 L610.6499999999999,333.7 L610.6499999999999,336.5" fill="none" stroke="#111" stroke-width="1.1"/>
<text x="607.0999999999999" y="334.7" font-size="8" fill="#111" text-anchor="middle">***</text>
<line x1="624.585" y1="364" x2="624.585" y2="411.8" stroke="#222" stroke-width="1.3"/><rect x="617.485" y="380.3" width="14.200000000000045" height="14.300000000000011" fill="#E64B35" stroke="#111" stroke-width="1.1"/><line x1="617.485" y1="386.8" x2="631.6850000000001" y2="386.8" stroke="#000" stroke-width="2.0"/><circle cx="624.585" cy="416.8" r="1.05" fill="#707070"/>
<line x1="642.37" y1="355.5" x2="642.37" y2="403.1" stroke="#222" stroke-width="1.3"/><rect x="635.27" y="370.2" width="14.200000000000045" height="15.100000000000023" fill="#E64B35" stroke="#111" stroke-width="1.1"/><line x1="635.27" y1="377.2" x2="649.47" y2="377.2" stroke="#000" stroke-width="2.0"/><circle cx="642.37" cy="341.2" r="1.05" fill="#707070"/>
<line x1="63" y1="309.5" x2="63" y2="476.5" stroke="#222" stroke-width="1.2"/>
<line x1="62.4" y1="475.9" x2="652.6" y2="475.9" stroke="#222" stroke-width="1.2"/>
<line x1="59" y1="318.0" x2="63" y2="318.0" stroke="#222" stroke-width="1"/>
<text x="56" y="321.0" font-size="8.5" fill="#222" text-anchor="end">10</text>
<line x1="59" y1="359.25" x2="63" y2="359.25" stroke="#222" stroke-width="1"/>
<text x="56" y="362.25" font-size="8.5" fill="#222" text-anchor="end">8</text>
<line x1="59" y1="400.5" x2="63" y2="400.5" stroke="#222" stroke-width="1"/>
<text x="56" y="403.5" font-size="8.5" fill="#222" text-anchor="end">6</text>
<line x1="59" y1="441.75" x2="63" y2="441.75" stroke="#222" stroke-width="1"/>
<text x="56" y="444.75" font-size="8.5" fill="#222" text-anchor="end">4</text>
<line x1="73.25" y1="475.9" x2="73.25" y2="480" stroke="#222" stroke-width="1"/>
<text transform="translate(77.95,487.5) rotate(-45)" font-size="8.5" fill="#222" text-anchor="end">ACC</text>
<line x1="91.035" y1="475.9" x2="91.035" y2="480" stroke="#222" stroke-width="1"/>
<text transform="translate(95.735,487.5) rotate(-45)" font-size="8.5" fill="#222" text-anchor="end">BLCA</text>
<line x1="108.82" y1="475.9" x2="108.82" y2="480" stroke="#222" stroke-width="1"/>
<text transform="translate(113.52,487.5) rotate(-45)" font-size="8.5" fill="#222" text-anchor="end">BRCA</text>
<line x1="126.605" y1="475.9" x2="126.605" y2="480" stroke="#222" stroke-width="1"/>
<text transform="translate(131.305,487.5) rotate(-45)" font-size="8.5" fill="#222" text-anchor="end">CESC</text>
<line x1="144.39" y1="475.9" x2="144.39" y2="480" stroke="#222" stroke-width="1"/>
<text transform="translate(149.08999999999997,487.5) rotate(-45)" font-size="8.5" fill="#222" text-anchor="end">CHOL</text>
<line x1="162.175" y1="475.9" x2="162.175" y2="480" stroke="#222" stroke-width="1"/>
<text transform="translate(166.875,487.5) rotate(-45)" font-size="8.5" fill="#222" text-anchor="end">COAD</text>
<line x1="179.96" y1="475.9" x2="179.96" y2="480" stroke="#222" stroke-width="1"/>
<text transform="translate(184.66,487.5) rotate(-45)" font-size="8.5" fill="#222" text-anchor="end">DLBC</text>
<line x1="197.745" y1="475.9" x2="197.745" y2="480" stroke="#222" stroke-width="1"/>
<text transform="translate(202.445,487.5) rotate(-45)" font-size="8.5" fill="#222" text-anchor="end">ESCA</text>
<line x1="215.53" y1="475.9" x2="215.53" y2="480" stroke="#222" stroke-width="1"/>
<text transform="translate(220.23,487.5) rotate(-45)" font-size="8.5" fill="#222" text-anchor="end">GBM</text>
<line x1="233.315" y1="475.9" x2="233.315" y2="480" stroke="#222" stroke-width="1"/>
<text transform="translate(238.015,487.5) rotate(-45)" font-size="8.5" fill="#222" text-anchor="end">HNSC</text>
<line x1="251.1" y1="475.9" x2="251.1" y2="480" stroke="#222" stroke-width="1"/>
<text transform="translate(255.79999999999998,487.5) rotate(-45)" font-size="8.5" fill="#222" text-anchor="end">KICH</text>
<line x1="268.885" y1="475.9" x2="268.885" y2="480" stroke="#222" stroke-width="1"/>
<text transform="translate(273.585,487.5) rotate(-45)" font-size="8.5" fill="#222" text-anchor="end">KIRC</text>
<line x1="286.67" y1="475.9" x2="286.67" y2="480" stroke="#222" stroke-width="1"/>
<text transform="translate(291.37,487.5) rotate(-45)" font-size="8.5" fill="#222" text-anchor="end">KIRP</text>
<line x1="304.45500000000004" y1="475.9" x2="304.45500000000004" y2="480" stroke="#222" stroke-width="1"/>
<text transform="translate(309.15500000000003,487.5) rotate(-45)" font-size="8.5" fill="#222" text-anchor="end">LAML</text>
<line x1="322.24" y1="475.9" x2="322.24" y2="480" stroke="#222" stroke-width="1"/>
<text transform="translate(326.94,487.5) rotate(-45)" font-size="8.5" fill="#222" text-anchor="end">LGG</text>
<line x1="340.025" y1="475.9" x2="340.025" y2="480" stroke="#222" stroke-width="1"/>
<text transform="translate(344.72499999999997,487.5) rotate(-45)" font-size="8.5" fill="#222" text-anchor="end">LIHC</text>
<line x1="357.81" y1="475.9" x2="357.81" y2="480" stroke="#222" stroke-width="1"/>
<text transform="translate(362.51,487.5) rotate(-45)" font-size="8.5" fill="#222" text-anchor="end">LUAD</text>
<line x1="375.595" y1="475.9" x2="375.595" y2="480" stroke="#222" stroke-width="1"/>
<text transform="translate(380.295,487.5) rotate(-45)" font-size="8.5" fill="#222" text-anchor="end">LUSC</text>
<line x1="393.38" y1="475.9" x2="393.38" y2="480" stroke="#222" stroke-width="1"/>
<text transform="translate(398.08,487.5) rotate(-45)" font-size="8.5" fill="#222" text-anchor="end">MESO</text>
<line x1="411.165" y1="475.9" x2="411.165" y2="480" stroke="#222" stroke-width="1"/>
<text transform="translate(415.865,487.5) rotate(-45)" font-size="8.5" fill="#222" text-anchor="end">OV</text>
<line x1="428.95" y1="475.9" x2="428.95" y2="480" stroke="#222" stroke-width="1"/>
<text transform="translate(433.65,487.5) rotate(-45)" font-size="8.5" fill="#222" text-anchor="end">PAAD</text>
<line x1="446.735" y1="475.9" x2="446.735" y2="480" stroke="#222" stroke-width="1"/>
<text transform="translate(451.435,487.5) rotate(-45)" font-size="8.5" fill="#222" text-anchor="end">PCPG</text>
<line x1="464.52" y1="475.9" x2="464.52" y2="480" stroke="#222" stroke-width="1"/>
<text transform="translate(469.21999999999997,487.5) rotate(-45)" font-size="8.5" fill="#222" text-anchor="end">PRAD</text>
<line x1="482.305" y1="475.9" x2="482.305" y2="480" stroke="#222" stroke-width="1"/>
<text transform="translate(487.005,487.5) rotate(-45)" font-size="8.5" fill="#222" text-anchor="end">READ</text>
<line x1="500.09000000000003" y1="475.9" x2="500.09000000000003" y2="480" stroke="#222" stroke-width="1"/>
<text transform="translate(504.79,487.5) rotate(-45)" font-size="8.5" fill="#222" text-anchor="end">SARC</text>
<line x1="517.875" y1="475.9" x2="517.875" y2="480" stroke="#222" stroke-width="1"/>
<text transform="translate(522.575,487.5) rotate(-45)" font-size="8.5" fill="#222" text-anchor="end">SKCM</text>
<line x1="535.6600000000001" y1="475.9" x2="535.6600000000001" y2="480" stroke="#222" stroke-width="1"/>
<text transform="translate(540.3600000000001,487.5) rotate(-45)" font-size="8.5" fill="#222" text-anchor="end">STAD</text>
<line x1="553.4449999999999" y1="475.9" x2="553.4449999999999" y2="480" stroke="#222" stroke-width="1"/>
<text transform="translate(558.145,487.5) rotate(-45)" font-size="8.5" fill="#222" text-anchor="end">TGCT</text>
<line x1="571.23" y1="475.9" x2="571.23" y2="480" stroke="#222" stroke-width="1"/>
<text transform="translate(575.9300000000001,487.5) rotate(-45)" font-size="8.5" fill="#222" text-anchor="end">THCA</text>
<line x1="589.015" y1="475.9" x2="589.015" y2="480" stroke="#222" stroke-width="1"/>
<text transform="translate(593.715,487.5) rotate(-45)" font-size="8.5" fill="#222" text-anchor="end">THYM</text>
<line x1="606.8" y1="475.9" x2="606.8" y2="480" stroke="#222" stroke-width="1"/>
<text transform="translate(611.5,487.5) rotate(-45)" font-size="8.5" fill="#222" text-anchor="end">UCEC</text>
<line x1="624.585" y1="475.9" x2="624.585" y2="480" stroke="#222" stroke-width="1"/>
<text transform="translate(629.2850000000001,487.5) rotate(-45)" font-size="8.5" fill="#222" text-anchor="end">UCS</text>
<line x1="642.37" y1="475.9" x2="642.37" y2="480" stroke="#222" stroke-width="1"/>
<text transform="translate(647.07,487.5) rotate(-45)" font-size="8.5" fill="#222" text-anchor="end">UVM</text>
<text transform="translate(27.4,392.5) rotate(-90)" font-size="10" fill="#222" text-anchor="middle">The expression of ATP6AP1</text>
<text transform="translate(37.6,390) rotate(-90)" font-size="10" fill="#222" text-anchor="middle">Log<tspan font-size="7.20" dy="3.00">2</tspan><tspan dy="-3.00"> (TPM+1)</tspan></text>
<line x1="662.6" y1="385.0" x2="662.6" y2="394.5" stroke="#222" stroke-width="0.9"/>
<rect x="658.2" y="386.5" width="8.6" height="6.5" fill="#4DBBD5" stroke="#111" stroke-width="0.9"/>
<line x1="658.2" y1="389.75" x2="666.8000000000001" y2="389.75" stroke="#000" stroke-width="1.2"/>
<line x1="662.6" y1="395.1" x2="662.6" y2="404.6" stroke="#222" stroke-width="0.9"/>
<rect x="658.2" y="396.6" width="8.6" height="6.5" fill="#E64B35" stroke="#111" stroke-width="0.9"/>
<line x1="658.2" y1="399.85" x2="666.8000000000001" y2="399.85" stroke="#000" stroke-width="1.2"/>
<text x="671.8" y="392.8" font-size="8.5" fill="#222">Normal</text>
<text x="671.8" y="403" font-size="8.5" fill="#222">Tumor</text>
<path d="M68.4,634.6999999999999 L68.4,631.9 L78.6,631.9 L78.6,634.6999999999999" fill="none" stroke="#111" stroke-width="1.1"/>
<text x="73.5" y="633.1" font-size="8.5" fill="#222" text-anchor="middle">**</text>
<path d="M94.045,603.1999999999999 L94.045,600.4 L104.24499999999999,600.4 L104.24499999999999,603.1999999999999" fill="none" stroke="#111" stroke-width="1.1"/>
<text x="99.145" y="601.6" font-size="8.5" fill="#222" text-anchor="middle">***</text>
<path d="M119.69,628.8 L119.69,626 L129.89,626 L129.89,628.8" fill="none" stroke="#111" stroke-width="1.1"/>
<text x="124.78999999999999" y="624.1" font-size="8.5" fill="#222" text-anchor="middle">ns</text>
<path d="M145.335,636.5999999999999 L145.335,633.8 L155.535,633.8 L155.535,636.5999999999999" fill="none" stroke="#111" stroke-width="1.1"/>
<text x="150.435" y="635.0" font-size="8.5" fill="#222" text-anchor="middle">**</text>
<path d="M170.98,631.3 L170.98,628.5 L181.17999999999998,628.5 L181.17999999999998,631.3" fill="none" stroke="#111" stroke-width="1.1"/>
<text x="176.07999999999998" y="629.7" font-size="8.5" fill="#222" text-anchor="middle">***</text>
<path d="M196.625,663.1999999999999 L196.625,660.4 L206.825,660.4 L206.825,663.1999999999999" fill="none" stroke="#111" stroke-width="1.1"/>
<text x="201.725" y="661.6" font-size="8.5" fill="#222" text-anchor="middle">*</text>
<path d="M222.27,630.3 L222.27,627.5 L232.47,627.5 L232.47,630.3" fill="none" stroke="#111" stroke-width="1.1"/>
<text x="227.37" y="628.7" font-size="8.5" fill="#222" text-anchor="middle">***</text>
<path d="M247.915,613.0 L247.915,610.2 L258.115,610.2 L258.115,613.0" fill="none" stroke="#111" stroke-width="1.1"/>
<text x="253.015" y="611.4000000000001" font-size="8.5" fill="#222" text-anchor="middle">*</text>
<path d="M273.55999999999995,624.8 L273.55999999999995,622 L283.76,622 L283.76,624.8" fill="none" stroke="#111" stroke-width="1.1"/>
<text x="278.65999999999997" y="620.1" font-size="8.5" fill="#222" text-anchor="middle">ns</text>
<path d="M299.205,617.5 L299.205,614.7 L309.40500000000003,614.7 L309.40500000000003,617.5" fill="none" stroke="#111" stroke-width="1.1"/>
<text x="304.305" y="612.8000000000001" font-size="8.5" fill="#222" text-anchor="middle">ns</text>
<path d="M324.84999999999997,625.4 L324.84999999999997,622.6 L335.05,622.6 L335.05,625.4" fill="none" stroke="#111" stroke-width="1.1"/>
<text x="329.95" y="623.8000000000001" font-size="8.5" fill="#222" text-anchor="middle">***</text>
<path d="M350.49499999999995,625.8 L350.49499999999995,623 L360.695,623 L360.695,625.8" fill="none" stroke="#111" stroke-width="1.1"/>
<text x="355.59499999999997" y="624.2" font-size="8.5" fill="#222" text-anchor="middle">*</text>
<path d="M376.14,605.6999999999999 L376.14,602.9 L386.34000000000003,602.9 L386.34000000000003,605.6999999999999" fill="none" stroke="#111" stroke-width="1.1"/>
<text x="381.24" y="601.0" font-size="8.5" fill="#222" text-anchor="middle">ns</text>
<path d="M401.78499999999997,647.8 L401.78499999999997,645 L411.985,645 L411.985,647.8" fill="none" stroke="#111" stroke-width="1.1"/>
<text x="406.885" y="643.1" font-size="8.5" fill="#222" text-anchor="middle">ns</text>
<path d="M427.42999999999995,607.0999999999999 L427.42999999999995,604.3 L437.63,604.3 L437.63,607.0999999999999" fill="none" stroke="#111" stroke-width="1.1"/>
<text x="432.53" y="602.4" font-size="8.5" fill="#222" text-anchor="middle">ns</text>
<path d="M453.075,611.5999999999999 L453.075,608.8 L463.27500000000003,608.8 L463.27500000000003,611.5999999999999" fill="none" stroke="#111" stroke-width="1.1"/>
<text x="458.175" y="610.0" font-size="8.5" fill="#222" text-anchor="middle">***</text>
<path d="M478.71999999999997,648.4 L478.71999999999997,645.6 L488.92,645.6 L488.92,648.4" fill="none" stroke="#111" stroke-width="1.1"/>
<text x="483.82" y="646.8000000000001" font-size="8.5" fill="#222" text-anchor="middle">**</text>
<path d="M555.655,624.4 L555.655,621.6 L565.855,621.6 L565.855,624.4" fill="none" stroke="#111" stroke-width="1.1"/>
<text x="560.755" y="622.8000000000001" font-size="8.5" fill="#222" text-anchor="middle">***</text>
<path d="M581.3,616.9 L581.3,614.1 L591.5,614.1 L591.5,616.9" fill="none" stroke="#111" stroke-width="1.1"/>
<text x="586.4" y="615.3000000000001" font-size="8.5" fill="#222" text-anchor="middle">***</text>
<path d="M632.5899999999999,618.5 L632.5899999999999,615.7 L642.79,615.7 L642.79,618.5" fill="none" stroke="#111" stroke-width="1.1"/>
<text x="637.6899999999999" y="616.9000000000001" font-size="8.5" fill="#222" text-anchor="middle">**</text>
<path d="M68.4,643.4L78.6,638.8M68.4,649.0L78.6,644.0M68.4,649.0L78.6,655.9M68.4,658.0L78.6,657.9M68.4,658.0L78.6,645.7M68.4,658.7L78.6,651.4M68.4,659.7L78.6,662.3M68.4,668.2L78.6,636.6M68.4,670.8L78.6,654.5M68.4,672.6L78.6,665.1M68.4,674.3L78.6,660.0M68.4,676.9L78.6,669.1M68.4,678.4L78.6,650.4M68.4,680.9L78.6,641.5M68.4,696.0L78.6,666.4M68.4,697.9L78.6,671.3M68.4,700.1L78.6,673.0M68.4,702.4L78.6,647.6M68.4,710.5L78.6,675.4M94.0,637.6L104.2,611.7M94.0,638.2L104.2,617.5M94.0,639.0L104.2,616.7M94.0,639.6L104.2,605.7M94.0,640.1L104.2,606.2M94.0,640.8L104.2,622.9M94.0,641.3L104.2,666.0M94.0,642.2L104.2,604.3M94.0,642.8L104.2,607.1M94.0,643.6L104.2,619.9M94.0,644.2L104.2,626.0M94.0,644.6L104.2,646.8M94.0,645.3L104.2,608.4M94.0,646.0L104.2,643.0M94.0,646.4L104.2,647.7M94.0,647.3L104.2,655.6M94.0,647.8L104.2,605.0M94.0,648.4L104.2,628.1M94.0,649.1L104.2,622.1M94.0,650.0L104.2,627.4M94.0,650.4L104.2,659.7M94.0,651.1L104.2,614.8M94.0,651.8L104.2,620.8M94.0,652.6L104.2,612.6M94.0,653.0L104.2,621.5M94.0,653.8L104.2,660.2M94.0,654.4L104.2,609.1M94.0,655.2L104.2,649.9M94.0,655.8L104.2,633.3M94.0,656.5L104.2,619.0M94.0,656.9L104.2,632.5M94.0,657.6L104.2,669.3M94.0,658.3L104.2,607.8M94.0,659.1L104.2,651.9M94.0,659.8L104.2,610.7M94.0,660.1L104.2,635.4M94.0,660.8L104.2,630.2M94.0,661.5L104.2,631.2M94.0,662.1L104.2,632.0M94.0,662.9L104.2,624.1M94.0,663.6L104.2,641.6M94.0,664.1L104.2,628.7M94.0,664.6L104.2,613.1M94.0,665.4L104.2,663.8M94.0,666.1L104.2,652.6M94.0,666.8L104.2,636.9M94.0,667.6L104.2,638.0M94.0,668.1L104.2,638.7M94.0,668.7L104.2,636.1M94.0,669.4L104.2,650.4M94.0,670.1L104.2,641.0M94.0,670.5L104.2,667.1M94.0,671.5L104.2,629.7M94.0,672.1L104.2,721.7M94.0,672.8L104.2,654.1M94.0,673.4L104.2,625.1M94.0,673.9L104.2,683.5M94.0,674.5L104.2,663.2M94.0,675.1L104.2,618.2M94.0,675.9L104.2,614.0M94.0,676.4L104.2,603.5M94.0,677.0L104.2,662.5M94.0,677.7L104.2,623.7M94.0,678.3L104.2,679.9M94.0,679.1L104.2,639.1M94.0,679.6L104.2,610.0M94.0,680.2L104.2,670.6M94.0,680.9L104.2,661.2M94.0,681.6L104.2,658.0M94.0,682.3L104.2,655.0M94.0,682.8L104.2,678.2M94.0,683.8L104.2,673.5M94.0,684.4L104.2,657.2M94.0,684.8L104.2,649.2M94.0,685.5L104.2,658.8M94.0,686.2L104.2,616.0M94.0,686.9L104.2,642.2M94.0,687.4L104.2,675.8M94.0,688.4L104.2,661.7M94.0,689.1L104.2,626.7M94.0,689.5L104.2,651.1M94.0,690.2L104.2,645.5M94.0,690.7L104.2,664.7M94.0,691.3L104.2,615.5M94.0,692.1L104.2,644.3M94.0,692.7L104.2,653.5M94.0,693.6L104.2,634.9M94.0,693.9L104.2,668.5M94.0,694.5L104.2,672.2M94.0,695.6L104.2,670.0M94.0,696.0L104.2,681.2M94.0,696.5L104.2,656.7M94.0,697.3L104.2,665.3M94.0,697.8L104.2,640.2M94.0,698.6L104.2,634.2M94.0,699.5L104.2,674.5M94.0,700.1L104.2,675.1M94.0,700.7L104.2,677.4M94.0,701.1L104.2,676.8M94.0,701.8L104.2,646.1M94.0,702.4L104.2,648.2M94.0,703.3L104.2,682.7M94.0,703.8L104.2,673.1M94.0,704.6L104.2,680.4M94.0,705.1L104.2,667.6M94.0,705.7L104.2,681.9M94.0,706.5L104.2,679.1M94.0,707.3L104.2,643.6M94.0,714.9L104.2,694.4M94.0,725.4L104.2,671.5M119.7,668.3L129.9,630.9M119.7,673.2L129.9,644.7M119.7,681.1L129.9,660.4M145.3,719.2L155.5,649.6M145.3,721.0L155.5,669.0M145.3,723.0L155.5,638.7M145.3,726.5L155.5,652.8M145.3,732.0L155.5,706.3M145.3,733.6L155.5,668.0M145.3,734.8L155.5,670.9M145.3,736.7L155.5,660.0M145.3,738.4L155.5,672.0M171.0,663.8L181.2,640.6M171.0,664.4L181.2,645.2M171.0,666.0L181.2,643.8M171.0,666.9L181.2,655.1M171.0,667.9L181.2,632.7M171.0,669.0L181.2,668.2M171.0,670.0L181.2,635.8M171.0,670.9L181.2,676.1M171.0,671.8L181.2,647.0M171.0,673.1L181.2,673.6M171.0,673.8L181.2,638.3M171.0,675.3L181.2,672.4M171.0,676.3L181.2,659.4M171.0,677.2L181.2,656.5M171.0,678.2L181.2,679.7M171.0,679.4L181.2,662.2M171.0,680.3L181.2,634.0M171.0,681.6L181.2,664.5M171.0,682.5L181.2,670.5M171.0,683.5L181.2,677.4M171.0,684.7L181.2,649.5M171.0,685.2L181.2,661.2M171.0,686.7L181.2,641.8M171.0,687.8L181.2,653.0M171.0,688.8L181.2,651.1M171.0,690.0L181.2,666.7M196.6,667.6L206.8,670.1M196.6,670.1L206.8,663.7M196.6,672.0L206.8,675.3M196.6,682.4L206.8,664.5M196.6,692.0L206.8,672.7M196.6,694.6L206.8,666.9M196.6,697.8L206.8,673.0M196.6,700.4L206.8,668.0M196.6,702.3L206.8,695.2M196.6,708.1L206.8,677.2M222.3,656.0L232.5,650.9M222.3,665.2L232.5,643.0M222.3,666.2L232.5,662.9M222.3,667.0L232.5,655.8M222.3,668.6L232.5,641.7M222.3,669.5L232.5,633.2M222.3,670.3L232.5,658.5M222.3,671.4L232.5,645.4M222.3,672.8L232.5,659.8M222.3,673.9L232.5,662.0M222.3,675.0L232.5,664.3M222.3,676.0L232.5,649.8M222.3,677.2L232.5,632.2M222.3,678.3L232.5,679.4M222.3,679.8L232.5,681.7M222.3,680.4L232.5,646.4M222.3,682.0L232.5,678.3M222.3,683.2L232.5,675.3M222.3,683.8L232.5,654.7M222.3,685.5L232.5,665.3M222.3,686.5L232.5,652.7M222.3,687.7L232.5,647.8M222.3,688.4L232.5,653.3M222.3,689.6L232.5,648.9M222.3,690.8L232.5,674.0M222.3,692.3L232.5,634.4M222.3,693.1L232.5,643.7M222.3,694.1L232.5,668.8M222.3,695.3L232.5,657.0M222.3,696.3L232.5,666.4M222.3,697.3L232.5,672.3M222.3,698.4L232.5,640.8M222.3,700.1L232.5,670.5M222.3,706.0L232.5,680.7M222.3,707.7L232.5,684.2M222.3,708.4L232.5,708.7M222.3,709.6L232.5,667.5M222.3,709.6L232.5,677.0M222.3,711.0L232.5,671.3M222.3,712.0L232.5,683.0M222.3,713.4L232.5,660.5M222.3,715.0L232.5,689.4M222.3,716.2L232.5,676.1M247.9,628.1L258.1,630.3M247.9,629.1L258.1,645.0M247.9,630.9L258.1,618.3M247.9,632.5L258.1,653.6M247.9,633.6L258.1,622.0M247.9,635.5L258.1,615.6M247.9,637.3L258.1,619.6M247.9,638.3L258.1,627.7M247.9,640.0L258.1,741.6M247.9,642.2L258.1,636.3M247.9,643.5L258.1,655.4M247.9,644.5L258.1,656.7M247.9,646.2L258.1,661.7M247.9,648.0L258.1,613.9M247.9,649.5L258.1,623.8M247.9,651.1L258.1,632.4M247.9,652.9L258.1,626.6M247.9,654.5L258.1,657.2M247.9,655.7L258.1,634.7M247.9,657.3L258.1,659.6M247.9,658.5L258.1,654.1M247.9,660.3L258.1,658.2M247.9,662.4L258.1,662.4M247.9,663.2L258.1,660.5M247.9,673.4L258.1,677.2M273.6,626.2L283.8,644.9M273.6,626.9L283.8,635.0M273.6,627.8L283.8,664.3M273.6,628.5L283.8,636.4M273.6,629.6L283.8,660.2M273.6,630.3L283.8,642.9M273.6,631.2L283.8,630.5M273.6,632.1L283.8,639.0M273.6,633.1L283.8,637.7M273.6,633.6L283.8,640.6M273.6,634.5L283.8,715.0M273.6,635.3L283.8,650.9M273.6,636.5L283.8,639.7M273.6,637.2L283.8,648.2M273.6,638.1L283.8,660.7M273.6,639.3L283.8,665.6M273.6,639.7L283.8,646.2M273.6,640.9L283.8,640.9M273.6,641.7L283.8,651.5M273.6,642.7L283.8,646.8M273.6,643.3L283.8,668.2M273.6,644.3L283.8,642.3M273.6,645.1L283.8,641.6M273.6,646.1L283.8,673.3M273.6,647.1L283.8,637.0M273.6,647.5L283.8,635.7M273.6,648.7L283.8,655.5M273.6,649.2L283.8,649.0M273.6,650.4L283.8,663.0M273.6,651.1L283.8,653.5M273.6,652.2L283.8,657.0M273.6,653.1L283.8,643.7M273.6,654.0L283.8,675.3M273.6,654.8L283.8,654.1M273.6,655.3L283.8,676.9M273.6,656.4L283.8,677.4M273.6,657.0L283.8,659.6M273.6,658.3L283.8,658.9M273.6,658.9L283.8,647.8M273.6,659.9L283.8,678.0M273.6,660.5L283.8,663.3M273.6,661.4L283.8,680.2M273.6,662.6L283.8,669.3M273.6,663.3L283.8,653.1M273.6,664.3L283.8,662.0M273.6,665.1L283.8,650.5M273.6,665.9L283.8,665.0M273.6,666.7L283.8,644.4M273.6,667.5L283.8,666.3M273.6,668.5L283.8,674.1M273.6,669.4L283.8,667.4M273.6,670.2L283.8,657.6M273.6,671.1L283.8,668.6M273.6,671.8L283.8,671.4M273.6,672.8L283.8,670.1M273.6,673.5L283.8,661.5M273.6,674.3L283.8,672.8M273.6,675.5L283.8,680.6M273.6,676.1L283.8,656.3M273.6,677.1L283.8,649.6M273.6,678.3L283.8,645.7M273.6,679.1L283.8,658.0M273.6,679.6L283.8,672.2M273.6,680.4L283.8,676.0M273.6,681.5L283.8,666.8M273.6,682.6L283.8,670.8M273.6,683.1L283.8,674.8M273.6,684.1L283.8,678.5M273.6,685.1L283.8,679.4M273.6,686.0L283.8,638.3M273.6,686.8L283.8,652.3M273.6,687.5L283.8,654.9M299.2,625.2L309.4,637.7M299.2,626.7L309.4,644.7M299.2,628.7L309.4,662.9M299.2,630.6L309.4,634.7M299.2,633.0L309.4,669.3M299.2,634.3L309.4,636.1M299.2,634.3L309.4,632.6M299.2,639.1L309.4,625.6M299.2,639.7L309.4,663.9M299.2,641.3L309.4,660.8M299.2,642.4L309.4,643.1M299.2,645.9L309.4,650.5M299.2,646.9L309.4,664.9M299.2,648.0L309.4,618.5M299.2,649.0L309.4,665.8M299.2,649.6L309.4,649.3M299.2,650.7L309.4,652.4M299.2,651.8L309.4,668.0M299.2,652.7L309.4,639.2M299.2,653.5L309.4,659.5M299.2,654.4L309.4,640.5M299.2,655.3L309.4,661.7M299.2,656.2L309.4,646.5M299.2,657.2L309.4,631.3M299.2,658.0L309.4,642.1M299.2,659.0L309.4,658.4M299.2,660.2L309.4,666.8M299.2,661.3L309.4,676.0M299.2,661.9L309.4,647.8M299.2,667.5L309.4,654.0M324.8,698.5L335.1,639.7M324.8,699.4L335.1,681.8M324.8,700.3L335.1,676.7M324.8,701.1L335.1,683.1M324.8,702.1L335.1,644.3M324.8,702.9L335.1,693.8M324.8,703.6L335.1,695.1M324.8,704.8L335.1,660.3M324.8,705.9L335.1,659.6M324.8,706.7L335.1,674.9M324.8,707.4L335.1,673.0M324.8,708.3L335.1,689.8M324.8,709.2L335.1,688.9M324.8,710.1L335.1,691.2M324.8,711.2L335.1,667.0M324.8,711.7L335.1,667.9M324.8,712.9L335.1,642.7M324.8,713.5L335.1,697.2M324.8,714.9L335.1,665.7M324.8,715.4L335.1,662.1M324.8,716.5L335.1,663.3M324.8,717.1L335.1,701.6M324.8,718.4L335.1,657.6M324.8,719.3L335.1,670.4M324.8,720.2L335.1,679.7M324.8,720.8L335.1,708.9M324.8,721.6L335.1,707.7M324.8,722.8L335.1,676.0M324.8,723.7L335.1,685.0M324.8,724.6L335.1,664.3M324.8,725.6L335.1,698.5M324.8,726.5L335.1,686.2M324.8,727.1L335.1,678.1M324.8,728.3L335.1,669.1M324.8,729.2L335.1,696.1M324.8,729.7L335.1,672.1M324.8,730.8L335.1,627.0M324.8,731.5L335.1,687.0M324.8,732.8L335.1,706.5M324.8,733.7L335.1,709.9M324.8,734.2L335.1,699.6M324.8,735.1L335.1,656.4M324.8,736.4L335.1,702.8M324.8,736.9L335.1,704.0M324.8,737.9L335.1,646.1M324.8,738.9L335.1,692.6M324.8,739.7L335.1,720.7M324.8,740.8L335.1,680.6M324.8,741.8L335.1,641.3M324.8,752.0L335.1,704.8M350.5,627.2L360.7,642.5M350.5,632.2L360.7,632.2M350.5,633.1L360.7,633.3M350.5,633.6L360.7,639.6M350.5,634.4L360.7,675.0M350.5,635.1L360.7,636.2M350.5,636.0L360.7,657.8M350.5,636.7L360.7,637.8M350.5,637.3L360.7,641.5M350.5,637.9L360.7,652.4M350.5,638.6L360.7,640.4M350.5,639.3L360.7,638.8M350.5,640.3L360.7,634.1M350.5,640.9L360.7,654.2M350.5,641.7L360.7,627.2M350.5,642.2L360.7,656.8M350.5,643.0L360.7,646.0M350.5,643.9L360.7,677.8M350.5,644.5L360.7,647.7M350.5,645.0L360.7,643.4M350.5,645.9L360.7,644.2M350.5,646.8L360.7,655.9M350.5,647.2L360.7,664.0M350.5,647.9L360.7,646.9M350.5,648.7L360.7,670.6M350.5,649.6L360.7,653.3M350.5,650.4L360.7,658.6M350.5,650.8L360.7,648.5M350.5,651.5L360.7,645.2M350.5,652.3L360.7,666.1M350.5,653.0L360.7,678.5M350.5,653.8L360.7,664.9M350.5,654.4L360.7,682.2M350.5,655.2L360.7,654.9M350.5,655.8L360.7,651.3M350.5,656.9L360.7,663.3M350.5,657.5L360.7,662.3M350.5,657.9L360.7,635.2M350.5,659.0L360.7,669.6M350.5,659.4L360.7,666.5M350.5,660.2L360.7,661.2M350.5,661.2L360.7,672.0M350.5,661.8L360.7,649.6M350.5,662.5L360.7,659.6M350.5,663.1L360.7,671.3M350.5,663.7L360.7,650.2M350.5,664.6L360.7,673.1M350.5,665.1L360.7,679.4M350.5,665.9L360.7,681.1M350.5,666.7L360.7,636.8M350.5,667.2L360.7,680.6M350.5,674.5L360.7,667.7M350.5,675.6L360.7,660.7M350.5,676.4L360.7,674.0M350.5,677.2L360.7,675.8M350.5,678.1L360.7,668.4M350.5,678.9L360.7,676.8M376.1,635.2L386.3,653.7M376.1,635.9L386.3,649.2M376.1,637.0L386.3,643.6M376.1,637.6L386.3,610.4M376.1,638.2L386.3,628.1M376.1,638.8L386.3,655.7M376.1,639.5L386.3,656.8M376.1,640.3L386.3,640.2M376.1,641.2L386.3,646.8M376.1,641.7L386.3,667.4M376.1,642.3L386.3,642.1M376.1,643.3L386.3,668.3M376.1,644.0L386.3,644.1M376.1,644.4L386.3,641.0M376.1,645.4L386.3,613.2M376.1,646.0L386.3,654.4M376.1,646.8L386.3,672.6M376.1,647.5L386.3,681.4M376.1,648.3L386.3,651.2M376.1,648.9L386.3,647.7M376.1,649.6L386.3,612.1M376.1,650.1L386.3,678.5M376.1,651.0L386.3,608.1M376.1,651.6L386.3,631.5M376.1,652.4L386.3,675.0M376.1,653.0L386.3,638.7M376.1,653.9L386.3,660.1M376.1,654.4L386.3,663.6M376.1,655.0L386.3,662.5M376.1,655.7L386.3,659.3M376.1,656.4L386.3,652.4M376.1,657.2L386.3,679.7M376.1,657.7L386.3,680.6M376.1,658.6L386.3,645.7M376.1,659.2L386.3,669.5M376.1,660.0L386.3,650.0M376.1,660.7L386.3,671.4M376.1,661.4L386.3,629.7M376.1,662.3L386.3,670.3M376.1,662.6L386.3,658.0M376.1,663.7L386.3,673.9M376.1,664.2L386.3,676.9M376.1,665.0L386.3,661.6M376.1,665.7L386.3,664.6M376.1,666.5L386.3,676.3M376.1,667.0L386.3,684.9M376.1,667.7L386.3,682.7M376.1,668.6L386.3,683.7M376.1,676.2L386.3,665.9M401.8,650.4L412.0,652.5M401.8,653.5L412.0,655.1M401.8,657.2L412.0,648.8M401.8,672.0L412.0,663.6M427.4,658.3L437.6,610.8M427.4,668.8L437.6,608.7M427.4,673.6L437.6,636.1M453.1,615.6L463.3,621.1M453.1,622.2L463.3,620.4M453.1,623.8L463.3,614.3M453.1,624.7L463.3,664.1M453.1,625.8L463.3,616.4M453.1,626.7L463.3,645.3M453.1,627.8L463.3,633.5M453.1,629.0L463.3,630.3M453.1,630.3L463.3,613.5M453.1,631.3L463.3,616.8M453.1,632.3L463.3,619.5M453.1,633.2L463.3,615.5M453.1,634.7L463.3,687.8M453.1,635.6L463.3,636.0M453.1,636.5L463.3,624.4M453.1,637.4L463.3,625.4M453.1,639.0L463.3,652.0M453.1,639.6L463.3,627.7M453.1,641.2L463.3,632.5M453.1,641.8L463.3,628.4M453.1,643.3L463.3,662.9M453.1,644.1L463.3,623.6M453.1,645.4L463.3,668.0M453.1,646.3L463.3,631.9M453.1,647.3L463.3,637.7M453.1,648.7L463.3,618.0M453.1,649.5L463.3,634.4M453.1,650.5L463.3,635.2M453.1,651.8L463.3,669.6M453.1,652.9L463.3,613.0M453.1,654.1L463.3,644.2M453.1,655.1L463.3,622.0M453.1,656.3L463.3,639.3M453.1,657.3L463.3,640.4M453.1,658.0L463.3,667.1M453.1,659.1L463.3,629.4M453.1,660.7L463.3,668.4M453.1,661.6L463.3,631.3M453.1,662.9L463.3,669.2M453.1,663.5L463.3,626.2M453.1,664.7L463.3,641.9M453.1,665.8L463.3,618.8M453.1,667.1L463.3,666.7M453.1,667.9L463.3,665.3M453.1,669.1L463.3,666.0M453.1,670.3L463.3,627.2M453.1,671.2L463.3,640.9M453.1,672.2L463.3,642.5M453.1,673.3L463.3,643.4M453.1,674.8L463.3,636.7M453.1,675.8L463.3,622.8M453.1,688.9L463.3,638.6M478.7,664.1L488.9,665.0M478.7,671.0L488.9,654.1M478.7,673.0L488.9,669.0M478.7,682.6L488.9,662.5M478.7,684.7L488.9,671.0M478.7,690.5L488.9,648.8M478.7,697.8L488.9,668.0M504.4,662.8L514.6,643.7M504.4,690.3L514.6,650.2M530.0,657.9L540.2,662.0M555.7,670.6L565.9,691.8M555.7,672.2L565.9,656.1M555.7,673.1L565.9,641.5M555.7,675.0L565.9,648.6M555.7,676.2L565.9,657.5M555.7,678.6L565.9,685.2M555.7,680.1L565.9,683.7M555.7,681.5L565.9,689.1M555.7,682.9L565.9,696.7M555.7,684.3L565.9,625.7M555.7,686.4L565.9,673.7M555.7,687.6L565.9,664.8M555.7,689.3L565.9,666.4M555.7,690.5L565.9,660.7M555.7,692.1L565.9,668.8M555.7,693.5L565.9,670.6M555.7,695.7L565.9,640.4M555.7,697.2L565.9,677.2M555.7,698.3L565.9,644.9M555.7,700.6L565.9,662.5M555.7,701.6L565.9,679.5M555.7,703.3L565.9,680.2M555.7,704.7L565.9,690.5M555.7,706.4L565.9,647.0M555.7,708.5L565.9,659.1M555.7,709.6L565.9,686.7M555.7,711.0L565.9,676.0M555.7,712.9L565.9,682.6M555.7,714.3L565.9,672.9M555.7,716.4L565.9,693.6M555.7,717.2L565.9,695.8M555.7,738.7L565.9,668.0M581.3,639.0L591.5,675.6M581.3,639.5L591.5,618.2M581.3,639.9L591.5,624.8M581.3,640.6L591.5,623.1M581.3,641.1L591.5,627.6M581.3,641.6L591.5,621.5M581.3,642.0L591.5,635.1M581.3,642.6L591.5,631.8M581.3,643.2L591.5,638.4M581.3,643.6L591.5,618.7M581.3,644.2L591.5,631.0M581.3,644.8L591.5,625.4M581.3,645.4L591.5,623.8M581.3,645.9L591.5,620.7M581.3,646.5L591.5,657.5M581.3,646.9L591.5,629.3M581.3,647.4L591.5,627.2M581.3,648.2L591.5,651.8M581.3,648.6L591.5,628.5M581.3,649.1L591.5,638.0M581.3,649.6L591.5,619.4M581.3,650.3L591.5,650.9M581.3,650.8L591.5,652.6M581.3,651.3L591.5,636.3M581.3,652.0L591.5,654.2M581.3,652.3L591.5,643.7M581.3,653.0L591.5,642.9M581.3,653.6L591.5,684.8M581.3,654.1L591.5,626.3M581.3,654.6L591.5,641.0M581.3,655.0L591.5,641.9M581.3,655.8L591.5,655.1M581.3,656.1L591.5,640.5M581.3,656.7L591.5,676.0M581.3,657.3L591.5,645.1M581.3,658.0L591.5,633.6M581.3,658.5L591.5,647.0M581.3,659.0L591.5,647.6M581.3,659.5L591.5,634.3M581.3,660.2L591.5,644.4M581.3,660.5L591.5,666.4M581.3,661.1L591.5,632.6M581.3,661.7L591.5,646.1M581.3,662.1L591.5,648.5M581.3,662.6L591.5,653.6M581.3,663.3L591.5,630.1M581.3,663.8L591.5,660.3M581.3,664.5L591.5,649.4M581.3,664.9L591.5,656.1M581.3,665.3L591.5,637.1M581.3,665.8L591.5,658.3M581.3,666.4L591.5,659.3M581.3,667.0L591.5,617.1M581.3,667.5L591.5,650.0M581.3,668.2L591.5,679.7M581.3,668.6L591.5,656.5M581.3,669.2L591.5,621.8M581.3,682.4L591.5,660.8M581.3,688.8L591.5,639.5M606.9,672.6L617.1,673.6M606.9,679.5L617.1,673.6M632.6,645.0L642.8,634.7M632.6,657.2L642.8,657.2M632.6,658.1L642.8,649.7M632.6,660.1L642.8,630.2M632.6,661.2L642.8,632.4M632.6,662.2L642.8,628.1M632.6,663.7L642.8,641.9M632.6,665.6L642.8,664.4M632.6,667.0L642.8,646.5M632.6,668.4L642.8,621.0M632.6,669.0L642.8,647.6M632.6,670.6L642.8,620.1M632.6,672.5L642.8,664.4M632.6,673.4L642.8,644.1M632.6,675.0L642.8,679.7M632.6,676.2L642.8,672.6M632.6,677.9L642.8,674.6M632.6,679.1L642.8,679.7M632.6,680.8L642.8,674.6M632.6,682.1L642.8,679.7M632.6,683.3L642.8,672.6M632.6,684.7L642.8,701.1M632.6,685.7L642.8,697.0" stroke="#000" stroke-width="0.95" fill="none"/>
<g fill="#4DBBD5"><circle cx="68.4" cy="643.4" r="2.3"/><circle cx="68.4" cy="649.0" r="2.3"/><circle cx="68.4" cy="658.0" r="2.3"/><circle cx="68.4" cy="658.7" r="2.3"/><circle cx="68.4" cy="659.7" r="2.3"/><circle cx="68.4" cy="668.2" r="2.3"/><circle cx="68.4" cy="670.8" r="2.3"/><circle cx="68.4" cy="672.6" r="2.3"/><circle cx="68.4" cy="674.3" r="2.3"/><circle cx="68.4" cy="676.9" r="2.3"/><circle cx="68.4" cy="678.4" r="2.3"/><circle cx="68.4" cy="680.9" r="2.3"/><circle cx="68.4" cy="696.0" r="2.3"/><circle cx="68.4" cy="697.9" r="2.3"/><circle cx="68.4" cy="700.1" r="2.3"/><circle cx="68.4" cy="702.4" r="2.3"/><circle cx="68.4" cy="710.5" r="2.3"/><circle cx="68.4" cy="658.0" r="2.3"/><circle cx="68.4" cy="649.0" r="2.3"/><circle cx="94.0" cy="637.6" r="2.3"/><circle cx="94.0" cy="638.2" r="2.3"/><circle cx="94.0" cy="639.0" r="2.3"/><circle cx="94.0" cy="639.6" r="2.3"/><circle cx="94.0" cy="640.1" r="2.3"/><circle cx="94.0" cy="640.8" r="2.3"/><circle cx="94.0" cy="641.3" r="2.3"/><circle cx="94.0" cy="642.2" r="2.3"/><circle cx="94.0" cy="642.8" r="2.3"/><circle cx="94.0" cy="643.6" r="2.3"/><circle cx="94.0" cy="644.2" r="2.3"/><circle cx="94.0" cy="644.6" r="2.3"/><circle cx="94.0" cy="645.3" r="2.3"/><circle cx="94.0" cy="646.0" r="2.3"/><circle cx="94.0" cy="646.4" r="2.3"/><circle cx="94.0" cy="647.3" r="2.3"/><circle cx="94.0" cy="647.8" r="2.3"/><circle cx="94.0" cy="648.4" r="2.3"/><circle cx="94.0" cy="649.1" r="2.3"/><circle cx="94.0" cy="650.0" r="2.3"/><circle cx="94.0" cy="650.4" r="2.3"/><circle cx="94.0" cy="651.1" r="2.3"/><circle cx="94.0" cy="651.8" r="2.3"/><circle cx="94.0" cy="652.6" r="2.3"/><circle cx="94.0" cy="653.0" r="2.3"/><circle cx="94.0" cy="653.8" r="2.3"/><circle cx="94.0" cy="654.4" r="2.3"/><circle cx="94.0" cy="655.2" r="2.3"/><circle cx="94.0" cy="655.8" r="2.3"/><circle cx="94.0" cy="656.5" r="2.3"/><circle cx="94.0" cy="656.9" r="2.3"/><circle cx="94.0" cy="657.6" r="2.3"/><circle cx="94.0" cy="658.3" r="2.3"/><circle cx="94.0" cy="659.1" r="2.3"/><circle cx="94.0" cy="659.8" r="2.3"/><circle cx="94.0" cy="660.1" r="2.3"/><circle cx="94.0" cy="660.8" r="2.3"/><circle cx="94.0" cy="661.5" r="2.3"/><circle cx="94.0" cy="662.1" r="2.3"/><circle cx="94.0" cy="662.9" r="2.3"/><circle cx="94.0" cy="663.6" r="2.3"/><circle cx="94.0" cy="664.1" r="2.3"/><circle cx="94.0" cy="664.6" r="2.3"/><circle cx="94.0" cy="665.4" r="2.3"/><circle cx="94.0" cy="666.1" r="2.3"/><circle cx="94.0" cy="666.8" r="2.3"/><circle cx="94.0" cy="667.6" r="2.3"/><circle cx="94.0" cy="668.1" r="2.3"/><circle cx="94.0" cy="668.7" r="2.3"/><circle cx="94.0" cy="669.4" r="2.3"/><circle cx="94.0" cy="670.1" r="2.3"/><circle cx="94.0" cy="670.5" r="2.3"/><circle cx="94.0" cy="671.5" r="2.3"/><circle cx="94.0" cy="672.1" r="2.3"/><circle cx="94.0" cy="672.8" r="2.3"/><circle cx="94.0" cy="673.4" r="2.3"/><circle cx="94.0" cy="673.9" r="2.3"/><circle cx="94.0" cy="674.5" r="2.3"/><circle cx="94.0" cy="675.1" r="2.3"/><circle cx="94.0" cy="675.9" r="2.3"/><circle cx="94.0" cy="676.4" r="2.3"/><circle cx="94.0" cy="677.0" r="2.3"/><circle cx="94.0" cy="677.7" r="2.3"/><circle cx="94.0" cy="678.3" r="2.3"/><circle cx="94.0" cy="679.1" r="2.3"/><circle cx="94.0" cy="679.6" r="2.3"/><circle cx="94.0" cy="680.2" r="2.3"/><circle cx="94.0" cy="680.9" r="2.3"/><circle cx="94.0" cy="681.6" r="2.3"/><circle cx="94.0" cy="682.3" r="2.3"/><circle cx="94.0" cy="682.8" r="2.3"/><circle cx="94.0" cy="683.8" r="2.3"/><circle cx="94.0" cy="684.4" r="2.3"/><circle cx="94.0" cy="684.8" r="2.3"/><circle cx="94.0" cy="685.5" r="2.3"/><circle cx="94.0" cy="686.2" r="2.3"/><circle cx="94.0" cy="686.9" r="2.3"/><circle cx="94.0" cy="687.4" r="2.3"/><circle cx="94.0" cy="688.4" r="2.3"/><circle cx="94.0" cy="689.1" r="2.3"/><circle cx="94.0" cy="689.5" r="2.3"/><circle cx="94.0" cy="690.2" r="2.3"/><circle cx="94.0" cy="690.7" r="2.3"/><circle cx="94.0" cy="691.3" r="2.3"/><circle cx="94.0" cy="692.1" r="2.3"/><circle cx="94.0" cy="692.7" r="2.3"/><circle cx="94.0" cy="693.6" r="2.3"/><circle cx="94.0" cy="693.9" r="2.3"/><circle cx="94.0" cy="694.5" r="2.3"/><circle cx="94.0" cy="695.6" r="2.3"/><circle cx="94.0" cy="696.0" r="2.3"/><circle cx="94.0" cy="696.5" r="2.3"/><circle cx="94.0" cy="697.3" r="2.3"/><circle cx="94.0" cy="697.8" r="2.3"/><circle cx="94.0" cy="698.6" r="2.3"/><circle cx="94.0" cy="699.5" r="2.3"/><circle cx="94.0" cy="700.1" r="2.3"/><circle cx="94.0" cy="700.7" r="2.3"/><circle cx="94.0" cy="701.1" r="2.3"/><circle cx="94.0" cy="701.8" r="2.3"/><circle cx="94.0" cy="702.4" r="2.3"/><circle cx="94.0" cy="703.3" r="2.3"/><circle cx="94.0" cy="703.8" r="2.3"/><circle cx="94.0" cy="704.6" r="2.3"/><circle cx="94.0" cy="705.1" r="2.3"/><circle cx="94.0" cy="705.7" r="2.3"/><circle cx="94.0" cy="706.5" r="2.3"/><circle cx="94.0" cy="707.3" r="2.3"/><circle cx="94.0" cy="714.9" r="2.3"/><circle cx="94.0" cy="725.4" r="2.3"/><circle cx="119.7" cy="668.3" r="2.3"/><circle cx="119.7" cy="673.2" r="2.3"/><circle cx="119.7" cy="681.1" r="2.3"/><circle cx="145.3" cy="719.2" r="2.3"/><circle cx="145.3" cy="721.0" r="2.3"/><circle cx="145.3" cy="723.0" r="2.3"/><circle cx="145.3" cy="726.5" r="2.3"/><circle cx="145.3" cy="732.0" r="2.3"/><circle cx="145.3" cy="733.6" r="2.3"/><circle cx="145.3" cy="734.8" r="2.3"/><circle cx="145.3" cy="736.7" r="2.3"/><circle cx="145.3" cy="738.4" r="2.3"/><circle cx="171.0" cy="663.8" r="2.3"/><circle cx="171.0" cy="664.4" r="2.3"/><circle cx="171.0" cy="666.0" r="2.3"/><circle cx="171.0" cy="666.9" r="2.3"/><circle cx="171.0" cy="667.9" r="2.3"/><circle cx="171.0" cy="669.0" r="2.3"/><circle cx="171.0" cy="670.0" r="2.3"/><circle cx="171.0" cy="670.9" r="2.3"/><circle cx="171.0" cy="671.8" r="2.3"/><circle cx="171.0" cy="673.1" r="2.3"/><circle cx="171.0" cy="673.8" r="2.3"/><circle cx="171.0" cy="675.3" r="2.3"/><circle cx="171.0" cy="676.3" r="2.3"/><circle cx="171.0" cy="677.2" r="2.3"/><circle cx="171.0" cy="678.2" r="2.3"/><circle cx="171.0" cy="679.4" r="2.3"/><circle cx="171.0" cy="680.3" r="2.3"/><circle cx="171.0" cy="681.6" r="2.3"/><circle cx="171.0" cy="682.5" r="2.3"/><circle cx="171.0" cy="683.5" r="2.3"/><circle cx="171.0" cy="684.7" r="2.3"/><circle cx="171.0" cy="685.2" r="2.3"/><circle cx="171.0" cy="686.7" r="2.3"/><circle cx="171.0" cy="687.8" r="2.3"/><circle cx="171.0" cy="688.8" r="2.3"/><circle cx="171.0" cy="690.0" r="2.3"/><circle cx="196.6" cy="667.6" r="2.3"/><circle cx="196.6" cy="670.1" r="2.3"/><circle cx="196.6" cy="672.0" r="2.3"/><circle cx="196.6" cy="682.4" r="2.3"/><circle cx="196.6" cy="692.0" r="2.3"/><circle cx="196.6" cy="694.6" r="2.3"/><circle cx="196.6" cy="697.8" r="2.3"/><circle cx="196.6" cy="700.4" r="2.3"/><circle cx="196.6" cy="702.3" r="2.3"/><circle cx="196.6" cy="708.1" r="2.3"/><circle cx="222.3" cy="656.0" r="2.3"/><circle cx="222.3" cy="665.2" r="2.3"/><circle cx="222.3" cy="666.2" r="2.3"/><circle cx="222.3" cy="667.0" r="2.3"/><circle cx="222.3" cy="668.6" r="2.3"/><circle cx="222.3" cy="669.5" r="2.3"/><circle cx="222.3" cy="670.3" r="2.3"/><circle cx="222.3" cy="671.4" r="2.3"/><circle cx="222.3" cy="672.8" r="2.3"/><circle cx="222.3" cy="673.9" r="2.3"/><circle cx="222.3" cy="675.0" r="2.3"/><circle cx="222.3" cy="676.0" r="2.3"/><circle cx="222.3" cy="677.2" r="2.3"/><circle cx="222.3" cy="678.3" r="2.3"/><circle cx="222.3" cy="679.8" r="2.3"/><circle cx="222.3" cy="680.4" r="2.3"/><circle cx="222.3" cy="682.0" r="2.3"/><circle cx="222.3" cy="683.2" r="2.3"/><circle cx="222.3" cy="683.8" r="2.3"/><circle cx="222.3" cy="685.5" r="2.3"/><circle cx="222.3" cy="686.5" r="2.3"/><circle cx="222.3" cy="687.7" r="2.3"/><circle cx="222.3" cy="688.4" r="2.3"/><circle cx="222.3" cy="689.6" r="2.3"/><circle cx="222.3" cy="690.8" r="2.3"/><circle cx="222.3" cy="692.3" r="2.3"/><circle cx="222.3" cy="693.1" r="2.3"/><circle cx="222.3" cy="694.1" r="2.3"/><circle cx="222.3" cy="695.3" r="2.3"/><circle cx="222.3" cy="696.3" r="2.3"/><circle cx="222.3" cy="697.3" r="2.3"/><circle cx="222.3" cy="698.4" r="2.3"/><circle cx="222.3" cy="700.1" r="2.3"/><circle cx="222.3" cy="706.0" r="2.3"/><circle cx="222.3" cy="707.7" r="2.3"/><circle cx="222.3" cy="708.4" r="2.3"/><circle cx="222.3" cy="709.6" r="2.3"/><circle cx="222.3" cy="711.0" r="2.3"/><circle cx="222.3" cy="712.0" r="2.3"/><circle cx="222.3" cy="713.4" r="2.3"/><circle cx="222.3" cy="715.0" r="2.3"/><circle cx="222.3" cy="716.2" r="2.3"/><circle cx="222.3" cy="709.6" r="2.3"/><circle cx="247.9" cy="628.1" r="2.3"/><circle cx="247.9" cy="629.1" r="2.3"/><circle cx="247.9" cy="630.9" r="2.3"/><circle cx="247.9" cy="632.5" r="2.3"/><circle cx="247.9" cy="633.6" r="2.3"/><circle cx="247.9" cy="635.5" r="2.3"/><circle cx="247.9" cy="637.3" r="2.3"/><circle cx="247.9" cy="638.3" r="2.3"/><circle cx="247.9" cy="640.0" r="2.3"/><circle cx="247.9" cy="642.2" r="2.3"/><circle cx="247.9" cy="643.5" r="2.3"/><circle cx="247.9" cy="644.5" r="2.3"/><circle cx="247.9" cy="646.2" r="2.3"/><circle cx="247.9" cy="648.0" r="2.3"/><circle cx="247.9" cy="649.5" r="2.3"/><circle cx="247.9" cy="651.1" r="2.3"/><circle cx="247.9" cy="652.9" r="2.3"/><circle cx="247.9" cy="654.5" r="2.3"/><circle cx="247.9" cy="655.7" r="2.3"/><circle cx="247.9" cy="657.3" r="2.3"/><circle cx="247.9" cy="658.5" r="2.3"/><circle cx="247.9" cy="660.3" r="2.3"/><circle cx="247.9" cy="662.4" r="2.3"/><circle cx="247.9" cy="663.2" r="2.3"/><circle cx="247.9" cy="673.4" r="2.3"/><circle cx="273.6" cy="626.2" r="2.3"/><circle cx="273.6" cy="626.9" r="2.3"/><circle cx="273.6" cy="627.8" r="2.3"/><circle cx="273.6" cy="628.5" r="2.3"/><circle cx="273.6" cy="629.6" r="2.3"/><circle cx="273.6" cy="630.3" r="2.3"/><circle cx="273.6" cy="631.2" r="2.3"/><circle cx="273.6" cy="632.1" r="2.3"/><circle cx="273.6" cy="633.1" r="2.3"/><circle cx="273.6" cy="633.6" r="2.3"/><circle cx="273.6" cy="634.5" r="2.3"/><circle cx="273.6" cy="635.3" r="2.3"/><circle cx="273.6" cy="636.5" r="2.3"/><circle cx="273.6" cy="637.2" r="2.3"/><circle cx="273.6" cy="638.1" r="2.3"/><circle cx="273.6" cy="639.3" r="2.3"/><circle cx="273.6" cy="639.7" r="2.3"/><circle cx="273.6" cy="640.9" r="2.3"/><circle cx="273.6" cy="641.7" r="2.3"/><circle cx="273.6" cy="642.7" r="2.3"/><circle cx="273.6" cy="643.3" r="2.3"/><circle cx="273.6" cy="644.3" r="2.3"/><circle cx="273.6" cy="645.1" r="2.3"/><circle cx="273.6" cy="646.1" r="2.3"/><circle cx="273.6" cy="647.1" r="2.3"/><circle cx="273.6" cy="647.5" r="2.3"/><circle cx="273.6" cy="648.7" r="2.3"/><circle cx="273.6" cy="649.2" r="2.3"/><circle cx="273.6" cy="650.4" r="2.3"/><circle cx="273.6" cy="651.1" r="2.3"/><circle cx="273.6" cy="652.2" r="2.3"/><circle cx="273.6" cy="653.1" r="2.3"/><circle cx="273.6" cy="654.0" r="2.3"/><circle cx="273.6" cy="654.8" r="2.3"/><circle cx="273.6" cy="655.3" r="2.3"/><circle cx="273.6" cy="656.4" r="2.3"/><circle cx="273.6" cy="657.0" r="2.3"/><circle cx="273.6" cy="658.3" r="2.3"/><circle cx="273.6" cy="658.9" r="2.3"/><circle cx="273.6" cy="659.9" r="2.3"/><circle cx="273.6" cy="660.5" r="2.3"/><circle cx="273.6" cy="661.4" r="2.3"/><circle cx="273.6" cy="662.6" r="2.3"/><circle cx="273.6" cy="663.3" r="2.3"/><circle cx="273.6" cy="664.3" r="2.3"/><circle cx="273.6" cy="665.1" r="2.3"/><circle cx="273.6" cy="665.9" r="2.3"/><circle cx="273.6" cy="666.7" r="2.3"/><circle cx="273.6" cy="667.5" r="2.3"/><circle cx="273.6" cy="668.5" r="2.3"/><circle cx="273.6" cy="669.4" r="2.3"/><circle cx="273.6" cy="670.2" r="2.3"/><circle cx="273.6" cy="671.1" r="2.3"/><circle cx="273.6" cy="671.8" r="2.3"/><circle cx="273.6" cy="672.8" r="2.3"/><circle cx="273.6" cy="673.5" r="2.3"/><circle cx="273.6" cy="674.3" r="2.3"/><circle cx="273.6" cy="675.5" r="2.3"/><circle cx="273.6" cy="676.1" r="2.3"/><circle cx="273.6" cy="677.1" r="2.3"/><circle cx="273.6" cy="678.3" r="2.3"/><circle cx="273.6" cy="679.1" r="2.3"/><circle cx="273.6" cy="679.6" r="2.3"/><circle cx="273.6" cy="680.4" r="2.3"/><circle cx="273.6" cy="681.5" r="2.3"/><circle cx="273.6" cy="682.6" r="2.3"/><circle cx="273.6" cy="683.1" r="2.3"/><circle cx="273.6" cy="684.1" r="2.3"/><circle cx="273.6" cy="685.1" r="2.3"/><circle cx="273.6" cy="686.0" r="2.3"/><circle cx="273.6" cy="686.8" r="2.3"/><circle cx="273.6" cy="687.5" r="2.3"/><circle cx="299.2" cy="625.2" r="2.3"/><circle cx="299.2" cy="626.7" r="2.3"/><circle cx="299.2" cy="628.7" r="2.3"/><circle cx="299.2" cy="630.6" r="2.3"/><circle cx="299.2" cy="633.0" r="2.3"/><circle cx="299.2" cy="634.3" r="2.3"/><circle cx="299.2" cy="639.1" r="2.3"/><circle cx="299.2" cy="639.7" r="2.3"/><circle cx="299.2" cy="641.3" r="2.3"/><circle cx="299.2" cy="642.4" r="2.3"/><circle cx="299.2" cy="645.9" r="2.3"/><circle cx="299.2" cy="646.9" r="2.3"/><circle cx="299.2" cy="648.0" r="2.3"/><circle cx="299.2" cy="649.0" r="2.3"/><circle cx="299.2" cy="649.6" r="2.3"/><circle cx="299.2" cy="650.7" r="2.3"/><circle cx="299.2" cy="651.8" r="2.3"/><circle cx="299.2" cy="652.7" r="2.3"/><circle cx="299.2" cy="653.5" r="2.3"/><circle cx="299.2" cy="654.4" r="2.3"/><circle cx="299.2" cy="655.3" r="2.3"/><circle cx="299.2" cy="656.2" r="2.3"/><circle cx="299.2" cy="657.2" r="2.3"/><circle cx="299.2" cy="658.0" r="2.3"/><circle cx="299.2" cy="659.0" r="2.3"/><circle cx="299.2" cy="660.2" r="2.3"/><circle cx="299.2" cy="661.3" r="2.3"/><circle cx="299.2" cy="661.9" r="2.3"/><circle cx="299.2" cy="667.5" r="2.3"/><circle cx="299.2" cy="634.3" r="2.3"/><circle cx="324.8" cy="698.5" r="2.3"/><circle cx="324.8" cy="699.4" r="2.3"/><circle cx="324.8" cy="700.3" r="2.3"/><circle cx="324.8" cy="701.1" r="2.3"/><circle cx="324.8" cy="702.1" r="2.3"/><circle cx="324.8" cy="702.9" r="2.3"/><circle cx="324.8" cy="703.6" r="2.3"/><circle cx="324.8" cy="704.8" r="2.3"/><circle cx="324.8" cy="705.9" r="2.3"/><circle cx="324.8" cy="706.7" r="2.3"/><circle cx="324.8" cy="707.4" r="2.3"/><circle cx="324.8" cy="708.3" r="2.3"/><circle cx="324.8" cy="709.2" r="2.3"/><circle cx="324.8" cy="710.1" r="2.3"/><circle cx="324.8" cy="711.2" r="2.3"/><circle cx="324.8" cy="711.7" r="2.3"/><circle cx="324.8" cy="712.9" r="2.3"/><circle cx="324.8" cy="713.5" r="2.3"/><circle cx="324.8" cy="714.9" r="2.3"/><circle cx="324.8" cy="715.4" r="2.3"/><circle cx="324.8" cy="716.5" r="2.3"/><circle cx="324.8" cy="717.1" r="2.3"/><circle cx="324.8" cy="718.4" r="2.3"/><circle cx="324.8" cy="719.3" r="2.3"/><circle cx="324.8" cy="720.2" r="2.3"/><circle cx="324.8" cy="720.8" r="2.3"/><circle cx="324.8" cy="721.6" r="2.3"/><circle cx="324.8" cy="722.8" r="2.3"/><circle cx="324.8" cy="723.7" r="2.3"/><circle cx="324.8" cy="724.6" r="2.3"/><circle cx="324.8" cy="725.6" r="2.3"/><circle cx="324.8" cy="726.5" r="2.3"/><circle cx="324.8" cy="727.1" r="2.3"/><circle cx="324.8" cy="728.3" r="2.3"/><circle cx="324.8" cy="729.2" r="2.3"/><circle cx="324.8" cy="729.7" r="2.3"/><circle cx="324.8" cy="730.8" r="2.3"/><circle cx="324.8" cy="731.5" r="2.3"/><circle cx="324.8" cy="732.8" r="2.3"/><circle cx="324.8" cy="733.7" r="2.3"/><circle cx="324.8" cy="734.2" r="2.3"/><circle cx="324.8" cy="735.1" r="2.3"/><circle cx="324.8" cy="736.4" r="2.3"/><circle cx="324.8" cy="736.9" r="2.3"/><circle cx="324.8" cy="737.9" r="2.3"/><circle cx="324.8" cy="738.9" r="2.3"/><circle cx="324.8" cy="739.7" r="2.3"/><circle cx="324.8" cy="740.8" r="2.3"/><circle cx="324.8" cy="741.8" r="2.3"/><circle cx="324.8" cy="752.0" r="2.3"/><circle cx="350.5" cy="627.2" r="2.3"/><circle cx="350.5" cy="632.2" r="2.3"/><circle cx="350.5" cy="633.1" r="2.3"/><circle cx="350.5" cy="633.6" r="2.3"/><circle cx="350.5" cy="634.4" r="2.3"/><circle cx="350.5" cy="635.1" r="2.3"/><circle cx="350.5" cy="636.0" r="2.3"/><circle cx="350.5" cy="636.7" r="2.3"/><circle cx="350.5" cy="637.3" r="2.3"/><circle cx="350.5" cy="637.9" r="2.3"/><circle cx="350.5" cy="638.6" r="2.3"/><circle cx="350.5" cy="639.3" r="2.3"/><circle cx="350.5" cy="640.3" r="2.3"/><circle cx="350.5" cy="640.9" r="2.3"/><circle cx="350.5" cy="641.7" r="2.3"/><circle cx="350.5" cy="642.2" r="2.3"/><circle cx="350.5" cy="643.0" r="2.3"/><circle cx="350.5" cy="643.9" r="2.3"/><circle cx="350.5" cy="644.5" r="2.3"/><circle cx="350.5" cy="645.0" r="2.3"/><circle cx="350.5" cy="645.9" r="2.3"/><circle cx="350.5" cy="646.8" r="2.3"/><circle cx="350.5" cy="647.2" r="2.3"/><circle cx="350.5" cy="647.9" r="2.3"/><circle cx="350.5" cy="648.7" r="2.3"/><circle cx="350.5" cy="649.6" r="2.3"/><circle cx="350.5" cy="650.4" r="2.3"/><circle cx="350.5" cy="650.8" r="2.3"/><circle cx="350.5" cy="651.5" r="2.3"/><circle cx="350.5" cy="652.3" r="2.3"/><circle cx="350.5" cy="653.0" r="2.3"/><circle cx="350.5" cy="653.8" r="2.3"/><circle cx="350.5" cy="654.4" r="2.3"/><circle cx="350.5" cy="655.2" r="2.3"/><circle cx="350.5" cy="655.8" r="2.3"/><circle cx="350.5" cy="656.9" r="2.3"/><circle cx="350.5" cy="657.5" r="2.3"/><circle cx="350.5" cy="657.9" r="2.3"/><circle cx="350.5" cy="659.0" r="2.3"/><circle cx="350.5" cy="659.4" r="2.3"/><circle cx="350.5" cy="660.2" r="2.3"/><circle cx="350.5" cy="661.2" r="2.3"/><circle cx="350.5" cy="661.8" r="2.3"/><circle cx="350.5" cy="662.5" r="2.3"/><circle cx="350.5" cy="663.1" r="2.3"/><circle cx="350.5" cy="663.7" r="2.3"/><circle cx="350.5" cy="664.6" r="2.3"/><circle cx="350.5" cy="665.1" r="2.3"/><circle cx="350.5" cy="665.9" r="2.3"/><circle cx="350.5" cy="666.7" r="2.3"/><circle cx="350.5" cy="667.2" r="2.3"/><circle cx="350.5" cy="674.5" r="2.3"/><circle cx="350.5" cy="675.6" r="2.3"/><circle cx="350.5" cy="676.4" r="2.3"/><circle cx="350.5" cy="677.2" r="2.3"/><circle cx="350.5" cy="678.1" r="2.3"/><circle cx="350.5" cy="678.9" r="2.3"/><circle cx="376.1" cy="635.2" r="2.3"/><circle cx="376.1" cy="635.9" r="2.3"/><circle cx="376.1" cy="637.0" r="2.3"/><circle cx="376.1" cy="637.6" r="2.3"/><circle cx="376.1" cy="638.2" r="2.3"/><circle cx="376.1" cy="638.8" r="2.3"/><circle cx="376.1" cy="639.5" r="2.3"/><circle cx="376.1" cy="640.3" r="2.3"/><circle cx="376.1" cy="641.2" r="2.3"/><circle cx="376.1" cy="641.7" r="2.3"/><circle cx="376.1" cy="642.3" r="2.3"/><circle cx="376.1" cy="643.3" r="2.3"/><circle cx="376.1" cy="644.0" r="2.3"/><circle cx="376.1" cy="644.4" r="2.3"/><circle cx="376.1" cy="645.4" r="2.3"/><circle cx="376.1" cy="646.0" r="2.3"/><circle cx="376.1" cy="646.8" r="2.3"/><circle cx="376.1" cy="647.5" r="2.3"/><circle cx="376.1" cy="648.3" r="2.3"/><circle cx="376.1" cy="648.9" r="2.3"/><circle cx="376.1" cy="649.6" r="2.3"/><circle cx="376.1" cy="650.1" r="2.3"/><circle cx="376.1" cy="651.0" r="2.3"/><circle cx="376.1" cy="651.6" r="2.3"/><circle cx="376.1" cy="652.4" r="2.3"/><circle cx="376.1" cy="653.0" r="2.3"/><circle cx="376.1" cy="653.9" r="2.3"/><circle cx="376.1" cy="654.4" r="2.3"/><circle cx="376.1" cy="655.0" r="2.3"/><circle cx="376.1" cy="655.7" r="2.3"/><circle cx="376.1" cy="656.4" r="2.3"/><circle cx="376.1" cy="657.2" r="2.3"/><circle cx="376.1" cy="657.7" r="2.3"/><circle cx="376.1" cy="658.6" r="2.3"/><circle cx="376.1" cy="659.2" r="2.3"/><circle cx="376.1" cy="660.0" r="2.3"/><circle cx="376.1" cy="660.7" r="2.3"/><circle cx="376.1" cy="661.4" r="2.3"/><circle cx="376.1" cy="662.3" r="2.3"/><circle cx="376.1" cy="662.6" r="2.3"/><circle cx="376.1" cy="663.7" r="2.3"/><circle cx="376.1" cy="664.2" r="2.3"/><circle cx="376.1" cy="665.0" r="2.3"/><circle cx="376.1" cy="665.7" r="2.3"/><circle cx="376.1" cy="666.5" r="2.3"/><circle cx="376.1" cy="667.0" r="2.3"/><circle cx="376.1" cy="667.7" r="2.3"/><circle cx="376.1" cy="668.6" r="2.3"/><circle cx="376.1" cy="676.2" r="2.3"/><circle cx="401.8" cy="650.4" r="2.3"/><circle cx="401.8" cy="653.5" r="2.3"/><circle cx="401.8" cy="657.2" r="2.3"/><circle cx="401.8" cy="672.0" r="2.3"/><circle cx="427.4" cy="658.3" r="2.3"/><circle cx="427.4" cy="668.8" r="2.3"/><circle cx="427.4" cy="673.6" r="2.3"/><circle cx="453.1" cy="615.6" r="2.3"/><circle cx="453.1" cy="622.2" r="2.3"/><circle cx="453.1" cy="623.8" r="2.3"/><circle cx="453.1" cy="624.7" r="2.3"/><circle cx="453.1" cy="625.8" r="2.3"/><circle cx="453.1" cy="626.7" r="2.3"/><circle cx="453.1" cy="627.8" r="2.3"/><circle cx="453.1" cy="629.0" r="2.3"/><circle cx="453.1" cy="630.3" r="2.3"/><circle cx="453.1" cy="631.3" r="2.3"/><circle cx="453.1" cy="632.3" r="2.3"/><circle cx="453.1" cy="633.2" r="2.3"/><circle cx="453.1" cy="634.7" r="2.3"/><circle cx="453.1" cy="635.6" r="2.3"/><circle cx="453.1" cy="636.5" r="2.3"/><circle cx="453.1" cy="637.4" r="2.3"/><circle cx="453.1" cy="639.0" r="2.3"/><circle cx="453.1" cy="639.6" r="2.3"/><circle cx="453.1" cy="641.2" r="2.3"/><circle cx="453.1" cy="641.8" r="2.3"/><circle cx="453.1" cy="643.3" r="2.3"/><circle cx="453.1" cy="644.1" r="2.3"/><circle cx="453.1" cy="645.4" r="2.3"/><circle cx="453.1" cy="646.3" r="2.3"/><circle cx="453.1" cy="647.3" r="2.3"/><circle cx="453.1" cy="648.7" r="2.3"/><circle cx="453.1" cy="649.5" r="2.3"/><circle cx="453.1" cy="650.5" r="2.3"/><circle cx="453.1" cy="651.8" r="2.3"/><circle cx="453.1" cy="652.9" r="2.3"/><circle cx="453.1" cy="654.1" r="2.3"/><circle cx="453.1" cy="655.1" r="2.3"/><circle cx="453.1" cy="656.3" r="2.3"/><circle cx="453.1" cy="657.3" r="2.3"/><circle cx="453.1" cy="658.0" r="2.3"/><circle cx="453.1" cy="659.1" r="2.3"/><circle cx="453.1" cy="660.7" r="2.3"/><circle cx="453.1" cy="661.6" r="2.3"/><circle cx="453.1" cy="662.9" r="2.3"/><circle cx="453.1" cy="663.5" r="2.3"/><circle cx="453.1" cy="664.7" r="2.3"/><circle cx="453.1" cy="665.8" r="2.3"/><circle cx="453.1" cy="667.1" r="2.3"/><circle cx="453.1" cy="667.9" r="2.3"/><circle cx="453.1" cy="669.1" r="2.3"/><circle cx="453.1" cy="670.3" r="2.3"/><circle cx="453.1" cy="671.2" r="2.3"/><circle cx="453.1" cy="672.2" r="2.3"/><circle cx="453.1" cy="673.3" r="2.3"/><circle cx="453.1" cy="674.8" r="2.3"/><circle cx="453.1" cy="675.8" r="2.3"/><circle cx="453.1" cy="688.9" r="2.3"/><circle cx="478.7" cy="664.1" r="2.3"/><circle cx="478.7" cy="671.0" r="2.3"/><circle cx="478.7" cy="673.0" r="2.3"/><circle cx="478.7" cy="682.6" r="2.3"/><circle cx="478.7" cy="684.7" r="2.3"/><circle cx="478.7" cy="690.5" r="2.3"/><circle cx="478.7" cy="697.8" r="2.3"/><circle cx="504.4" cy="662.8" r="2.3"/><circle cx="504.4" cy="690.3" r="2.3"/><circle cx="530.0" cy="657.9" r="2.3"/><circle cx="555.7" cy="670.6" r="2.3"/><circle cx="555.7" cy="672.2" r="2.3"/><circle cx="555.7" cy="673.1" r="2.3"/><circle cx="555.7" cy="675.0" r="2.3"/><circle cx="555.7" cy="676.2" r="2.3"/><circle cx="555.7" cy="678.6" r="2.3"/><circle cx="555.7" cy="680.1" r="2.3"/><circle cx="555.7" cy="681.5" r="2.3"/><circle cx="555.7" cy="682.9" r="2.3"/><circle cx="555.7" cy="684.3" r="2.3"/><circle cx="555.7" cy="686.4" r="2.3"/><circle cx="555.7" cy="687.6" r="2.3"/><circle cx="555.7" cy="689.3" r="2.3"/><circle cx="555.7" cy="690.5" r="2.3"/><circle cx="555.7" cy="692.1" r="2.3"/><circle cx="555.7" cy="693.5" r="2.3"/><circle cx="555.7" cy="695.7" r="2.3"/><circle cx="555.7" cy="697.2" r="2.3"/><circle cx="555.7" cy="698.3" r="2.3"/><circle cx="555.7" cy="700.6" r="2.3"/><circle cx="555.7" cy="701.6" r="2.3"/><circle cx="555.7" cy="703.3" r="2.3"/><circle cx="555.7" cy="704.7" r="2.3"/><circle cx="555.7" cy="706.4" r="2.3"/><circle cx="555.7" cy="708.5" r="2.3"/><circle cx="555.7" cy="709.6" r="2.3"/><circle cx="555.7" cy="711.0" r="2.3"/><circle cx="555.7" cy="712.9" r="2.3"/><circle cx="555.7" cy="714.3" r="2.3"/><circle cx="555.7" cy="716.4" r="2.3"/><circle cx="555.7" cy="717.2" r="2.3"/><circle cx="555.7" cy="738.7" r="2.3"/><circle cx="581.3" cy="639.0" r="2.3"/><circle cx="581.3" cy="639.5" r="2.3"/><circle cx="581.3" cy="639.9" r="2.3"/><circle cx="581.3" cy="640.6" r="2.3"/><circle cx="581.3" cy="641.1" r="2.3"/><circle cx="581.3" cy="641.6" r="2.3"/><circle cx="581.3" cy="642.0" r="2.3"/><circle cx="581.3" cy="642.6" r="2.3"/><circle cx="581.3" cy="643.2" r="2.3"/><circle cx="581.3" cy="643.6" r="2.3"/><circle cx="581.3" cy="644.2" r="2.3"/><circle cx="581.3" cy="644.8" r="2.3"/><circle cx="581.3" cy="645.4" r="2.3"/><circle cx="581.3" cy="645.9" r="2.3"/><circle cx="581.3" cy="646.5" r="2.3"/><circle cx="581.3" cy="646.9" r="2.3"/><circle cx="581.3" cy="647.4" r="2.3"/><circle cx="581.3" cy="648.2" r="2.3"/><circle cx="581.3" cy="648.6" r="2.3"/><circle cx="581.3" cy="649.1" r="2.3"/><circle cx="581.3" cy="649.6" r="2.3"/><circle cx="581.3" cy="650.3" r="2.3"/><circle cx="581.3" cy="650.8" r="2.3"/><circle cx="581.3" cy="651.3" r="2.3"/><circle cx="581.3" cy="652.0" r="2.3"/><circle cx="581.3" cy="652.3" r="2.3"/><circle cx="581.3" cy="653.0" r="2.3"/><circle cx="581.3" cy="653.6" r="2.3"/><circle cx="581.3" cy="654.1" r="2.3"/><circle cx="581.3" cy="654.6" r="2.3"/><circle cx="581.3" cy="655.0" r="2.3"/><circle cx="581.3" cy="655.8" r="2.3"/><circle cx="581.3" cy="656.1" r="2.3"/><circle cx="581.3" cy="656.7" r="2.3"/><circle cx="581.3" cy="657.3" r="2.3"/><circle cx="581.3" cy="658.0" r="2.3"/><circle cx="581.3" cy="658.5" r="2.3"/><circle cx="581.3" cy="659.0" r="2.3"/><circle cx="581.3" cy="659.5" r="2.3"/><circle cx="581.3" cy="660.2" r="2.3"/><circle cx="581.3" cy="660.5" r="2.3"/><circle cx="581.3" cy="661.1" r="2.3"/><circle cx="581.3" cy="661.7" r="2.3"/><circle cx="581.3" cy="662.1" r="2.3"/><circle cx="581.3" cy="662.6" r="2.3"/><circle cx="581.3" cy="663.3" r="2.3"/><circle cx="581.3" cy="663.8" r="2.3"/><circle cx="581.3" cy="664.5" r="2.3"/><circle cx="581.3" cy="664.9" r="2.3"/><circle cx="581.3" cy="665.3" r="2.3"/><circle cx="581.3" cy="665.8" r="2.3"/><circle cx="581.3" cy="666.4" r="2.3"/><circle cx="581.3" cy="667.0" r="2.3"/><circle cx="581.3" cy="667.5" r="2.3"/><circle cx="581.3" cy="668.2" r="2.3"/><circle cx="581.3" cy="668.6" r="2.3"/><circle cx="581.3" cy="669.2" r="2.3"/><circle cx="581.3" cy="682.4" r="2.3"/><circle cx="581.3" cy="688.8" r="2.3"/><circle cx="606.9" cy="672.6" r="2.3"/><circle cx="606.9" cy="679.5" r="2.3"/><circle cx="632.6" cy="645.0" r="2.3"/><circle cx="632.6" cy="657.2" r="2.3"/><circle cx="632.6" cy="658.1" r="2.3"/><circle cx="632.6" cy="660.1" r="2.3"/><circle cx="632.6" cy="661.2" r="2.3"/><circle cx="632.6" cy="662.2" r="2.3"/><circle cx="632.6" cy="663.7" r="2.3"/><circle cx="632.6" cy="665.6" r="2.3"/><circle cx="632.6" cy="667.0" r="2.3"/><circle cx="632.6" cy="668.4" r="2.3"/><circle cx="632.6" cy="669.0" r="2.3"/><circle cx="632.6" cy="670.6" r="2.3"/><circle cx="632.6" cy="672.5" r="2.3"/><circle cx="632.6" cy="673.4" r="2.3"/><circle cx="632.6" cy="675.0" r="2.3"/><circle cx="632.6" cy="676.2" r="2.3"/><circle cx="632.6" cy="677.9" r="2.3"/><circle cx="632.6" cy="679.1" r="2.3"/><circle cx="632.6" cy="680.8" r="2.3"/><circle cx="632.6" cy="682.1" r="2.3"/><circle cx="632.6" cy="683.3" r="2.3"/><circle cx="632.6" cy="684.7" r="2.3"/><circle cx="632.6" cy="685.7" r="2.3"/></g>
<g fill="#E64B35"><circle cx="78.6" cy="636.6" r="2.3"/><circle cx="78.6" cy="638.8" r="2.3"/><circle cx="78.6" cy="641.5" r="2.3"/><circle cx="78.6" cy="644.0" r="2.3"/><circle cx="78.6" cy="645.7" r="2.3"/><circle cx="78.6" cy="647.6" r="2.3"/><circle cx="78.6" cy="650.4" r="2.3"/><circle cx="78.6" cy="651.4" r="2.3"/><circle cx="78.6" cy="654.5" r="2.3"/><circle cx="78.6" cy="655.9" r="2.3"/><circle cx="78.6" cy="657.9" r="2.3"/><circle cx="78.6" cy="660.0" r="2.3"/><circle cx="78.6" cy="662.3" r="2.3"/><circle cx="78.6" cy="665.1" r="2.3"/><circle cx="78.6" cy="666.4" r="2.3"/><circle cx="78.6" cy="669.1" r="2.3"/><circle cx="78.6" cy="671.3" r="2.3"/><circle cx="78.6" cy="673.0" r="2.3"/><circle cx="78.6" cy="675.4" r="2.3"/><circle cx="104.2" cy="603.5" r="2.3"/><circle cx="104.2" cy="604.3" r="2.3"/><circle cx="104.2" cy="605.0" r="2.3"/><circle cx="104.2" cy="605.7" r="2.3"/><circle cx="104.2" cy="606.2" r="2.3"/><circle cx="104.2" cy="607.1" r="2.3"/><circle cx="104.2" cy="607.8" r="2.3"/><circle cx="104.2" cy="608.4" r="2.3"/><circle cx="104.2" cy="609.1" r="2.3"/><circle cx="104.2" cy="610.0" r="2.3"/><circle cx="104.2" cy="610.7" r="2.3"/><circle cx="104.2" cy="611.7" r="2.3"/><circle cx="104.2" cy="612.6" r="2.3"/><circle cx="104.2" cy="613.1" r="2.3"/><circle cx="104.2" cy="614.0" r="2.3"/><circle cx="104.2" cy="614.8" r="2.3"/><circle cx="104.2" cy="615.5" r="2.3"/><circle cx="104.2" cy="616.0" r="2.3"/><circle cx="104.2" cy="616.7" r="2.3"/><circle cx="104.2" cy="617.5" r="2.3"/><circle cx="104.2" cy="618.2" r="2.3"/><circle cx="104.2" cy="619.0" r="2.3"/><circle cx="104.2" cy="619.9" r="2.3"/><circle cx="104.2" cy="620.8" r="2.3"/><circle cx="104.2" cy="621.5" r="2.3"/><circle cx="104.2" cy="622.1" r="2.3"/><circle cx="104.2" cy="622.9" r="2.3"/><circle cx="104.2" cy="623.7" r="2.3"/><circle cx="104.2" cy="624.1" r="2.3"/><circle cx="104.2" cy="625.1" r="2.3"/><circle cx="104.2" cy="626.0" r="2.3"/><circle cx="104.2" cy="626.7" r="2.3"/><circle cx="104.2" cy="627.4" r="2.3"/><circle cx="104.2" cy="628.1" r="2.3"/><circle cx="104.2" cy="628.7" r="2.3"/><circle cx="104.2" cy="629.7" r="2.3"/><circle cx="104.2" cy="630.2" r="2.3"/><circle cx="104.2" cy="631.2" r="2.3"/><circle cx="104.2" cy="632.0" r="2.3"/><circle cx="104.2" cy="632.5" r="2.3"/><circle cx="104.2" cy="633.3" r="2.3"/><circle cx="104.2" cy="634.2" r="2.3"/><circle cx="104.2" cy="634.9" r="2.3"/><circle cx="104.2" cy="635.4" r="2.3"/><circle cx="104.2" cy="636.1" r="2.3"/><circle cx="104.2" cy="636.9" r="2.3"/><circle cx="104.2" cy="638.0" r="2.3"/><circle cx="104.2" cy="638.7" r="2.3"/><circle cx="104.2" cy="639.1" r="2.3"/><circle cx="104.2" cy="640.2" r="2.3"/><circle cx="104.2" cy="641.0" r="2.3"/><circle cx="104.2" cy="641.6" r="2.3"/><circle cx="104.2" cy="642.2" r="2.3"/><circle cx="104.2" cy="643.0" r="2.3"/><circle cx="104.2" cy="643.6" r="2.3"/><circle cx="104.2" cy="644.3" r="2.3"/><circle cx="104.2" cy="645.5" r="2.3"/><circle cx="104.2" cy="646.1" r="2.3"/><circle cx="104.2" cy="646.8" r="2.3"/><circle cx="104.2" cy="647.7" r="2.3"/><circle cx="104.2" cy="648.2" r="2.3"/><circle cx="104.2" cy="649.2" r="2.3"/><circle cx="104.2" cy="649.9" r="2.3"/><circle cx="104.2" cy="650.4" r="2.3"/><circle cx="104.2" cy="651.1" r="2.3"/><circle cx="104.2" cy="651.9" r="2.3"/><circle cx="104.2" cy="652.6" r="2.3"/><circle cx="104.2" cy="653.5" r="2.3"/><circle cx="104.2" cy="654.1" r="2.3"/><circle cx="104.2" cy="655.0" r="2.3"/><circle cx="104.2" cy="655.6" r="2.3"/><circle cx="104.2" cy="656.7" r="2.3"/><circle cx="104.2" cy="657.2" r="2.3"/><circle cx="104.2" cy="658.0" r="2.3"/><circle cx="104.2" cy="658.8" r="2.3"/><circle cx="104.2" cy="659.7" r="2.3"/><circle cx="104.2" cy="660.2" r="2.3"/><circle cx="104.2" cy="661.2" r="2.3"/><circle cx="104.2" cy="661.7" r="2.3"/><circle cx="104.2" cy="662.5" r="2.3"/><circle cx="104.2" cy="663.2" r="2.3"/><circle cx="104.2" cy="663.8" r="2.3"/><circle cx="104.2" cy="664.7" r="2.3"/><circle cx="104.2" cy="665.3" r="2.3"/><circle cx="104.2" cy="666.0" r="2.3"/><circle cx="104.2" cy="667.1" r="2.3"/><circle cx="104.2" cy="667.6" r="2.3"/><circle cx="104.2" cy="668.5" r="2.3"/><circle cx="104.2" cy="669.3" r="2.3"/><circle cx="104.2" cy="670.0" r="2.3"/><circle cx="104.2" cy="670.6" r="2.3"/><circle cx="104.2" cy="671.5" r="2.3"/><circle cx="104.2" cy="672.2" r="2.3"/><circle cx="104.2" cy="673.1" r="2.3"/><circle cx="104.2" cy="673.5" r="2.3"/><circle cx="104.2" cy="674.5" r="2.3"/><circle cx="104.2" cy="675.1" r="2.3"/><circle cx="104.2" cy="675.8" r="2.3"/><circle cx="104.2" cy="676.8" r="2.3"/><circle cx="104.2" cy="677.4" r="2.3"/><circle cx="104.2" cy="678.2" r="2.3"/><circle cx="104.2" cy="679.1" r="2.3"/><circle cx="104.2" cy="679.9" r="2.3"/><circle cx="104.2" cy="680.4" r="2.3"/><circle cx="104.2" cy="681.2" r="2.3"/><circle cx="104.2" cy="681.9" r="2.3"/><circle cx="104.2" cy="682.7" r="2.3"/><circle cx="104.2" cy="683.5" r="2.3"/><circle cx="104.2" cy="694.4" r="2.3"/><circle cx="104.2" cy="721.7" r="2.3"/><circle cx="129.9" cy="630.9" r="2.3"/><circle cx="129.9" cy="644.7" r="2.3"/><circle cx="129.9" cy="660.4" r="2.3"/><circle cx="155.5" cy="638.7" r="2.3"/><circle cx="155.5" cy="649.6" r="2.3"/><circle cx="155.5" cy="652.8" r="2.3"/><circle cx="155.5" cy="660.0" r="2.3"/><circle cx="155.5" cy="669.0" r="2.3"/><circle cx="155.5" cy="670.9" r="2.3"/><circle cx="155.5" cy="668.0" r="2.3"/><circle cx="155.5" cy="672.0" r="2.3"/><circle cx="155.5" cy="706.3" r="2.3"/><circle cx="181.2" cy="632.7" r="2.3"/><circle cx="181.2" cy="634.0" r="2.3"/><circle cx="181.2" cy="635.8" r="2.3"/><circle cx="181.2" cy="638.3" r="2.3"/><circle cx="181.2" cy="640.6" r="2.3"/><circle cx="181.2" cy="641.8" r="2.3"/><circle cx="181.2" cy="643.8" r="2.3"/><circle cx="181.2" cy="645.2" r="2.3"/><circle cx="181.2" cy="647.0" r="2.3"/><circle cx="181.2" cy="649.5" r="2.3"/><circle cx="181.2" cy="651.1" r="2.3"/><circle cx="181.2" cy="653.0" r="2.3"/><circle cx="181.2" cy="655.1" r="2.3"/><circle cx="181.2" cy="656.5" r="2.3"/><circle cx="181.2" cy="659.4" r="2.3"/><circle cx="181.2" cy="661.2" r="2.3"/><circle cx="181.2" cy="662.2" r="2.3"/><circle cx="181.2" cy="664.5" r="2.3"/><circle cx="181.2" cy="666.7" r="2.3"/><circle cx="181.2" cy="668.2" r="2.3"/><circle cx="181.2" cy="670.5" r="2.3"/><circle cx="181.2" cy="672.4" r="2.3"/><circle cx="181.2" cy="673.6" r="2.3"/><circle cx="181.2" cy="676.1" r="2.3"/><circle cx="181.2" cy="677.4" r="2.3"/><circle cx="181.2" cy="679.7" r="2.3"/><circle cx="206.8" cy="663.7" r="2.3"/><circle cx="206.8" cy="666.9" r="2.3"/><circle cx="206.8" cy="670.1" r="2.3"/><circle cx="206.8" cy="672.7" r="2.3"/><circle cx="206.8" cy="675.3" r="2.3"/><circle cx="206.8" cy="677.2" r="2.3"/><circle cx="206.8" cy="664.5" r="2.3"/><circle cx="206.8" cy="668.0" r="2.3"/><circle cx="206.8" cy="673.0" r="2.3"/><circle cx="206.8" cy="695.2" r="2.3"/><circle cx="232.5" cy="632.2" r="2.3"/><circle cx="232.5" cy="633.2" r="2.3"/><circle cx="232.5" cy="634.4" r="2.3"/><circle cx="232.5" cy="640.8" r="2.3"/><circle cx="232.5" cy="641.7" r="2.3"/><circle cx="232.5" cy="643.0" r="2.3"/><circle cx="232.5" cy="643.7" r="2.3"/><circle cx="232.5" cy="645.4" r="2.3"/><circle cx="232.5" cy="646.4" r="2.3"/><circle cx="232.5" cy="647.8" r="2.3"/><circle cx="232.5" cy="648.9" r="2.3"/><circle cx="232.5" cy="649.8" r="2.3"/><circle cx="232.5" cy="650.9" r="2.3"/><circle cx="232.5" cy="652.7" r="2.3"/><circle cx="232.5" cy="653.3" r="2.3"/><circle cx="232.5" cy="654.7" r="2.3"/><circle cx="232.5" cy="655.8" r="2.3"/><circle cx="232.5" cy="657.0" r="2.3"/><circle cx="232.5" cy="658.5" r="2.3"/><circle cx="232.5" cy="659.8" r="2.3"/><circle cx="232.5" cy="660.5" r="2.3"/><circle cx="232.5" cy="662.0" r="2.3"/><circle cx="232.5" cy="662.9" r="2.3"/><circle cx="232.5" cy="664.3" r="2.3"/><circle cx="232.5" cy="665.3" r="2.3"/><circle cx="232.5" cy="666.4" r="2.3"/><circle cx="232.5" cy="667.5" r="2.3"/><circle cx="232.5" cy="668.8" r="2.3"/><circle cx="232.5" cy="670.5" r="2.3"/><circle cx="232.5" cy="671.3" r="2.3"/><circle cx="232.5" cy="672.3" r="2.3"/><circle cx="232.5" cy="674.0" r="2.3"/><circle cx="232.5" cy="675.3" r="2.3"/><circle cx="232.5" cy="676.1" r="2.3"/><circle cx="232.5" cy="677.0" r="2.3"/><circle cx="232.5" cy="678.3" r="2.3"/><circle cx="232.5" cy="679.4" r="2.3"/><circle cx="232.5" cy="680.7" r="2.3"/><circle cx="232.5" cy="681.7" r="2.3"/><circle cx="232.5" cy="683.0" r="2.3"/><circle cx="232.5" cy="684.2" r="2.3"/><circle cx="232.5" cy="689.4" r="2.3"/><circle cx="232.5" cy="708.7" r="2.3"/><circle cx="258.1" cy="613.9" r="2.3"/><circle cx="258.1" cy="615.6" r="2.3"/><circle cx="258.1" cy="618.3" r="2.3"/><circle cx="258.1" cy="619.6" r="2.3"/><circle cx="258.1" cy="622.0" r="2.3"/><circle cx="258.1" cy="623.8" r="2.3"/><circle cx="258.1" cy="626.6" r="2.3"/><circle cx="258.1" cy="627.7" r="2.3"/><circle cx="258.1" cy="630.3" r="2.3"/><circle cx="258.1" cy="632.4" r="2.3"/><circle cx="258.1" cy="634.7" r="2.3"/><circle cx="258.1" cy="636.3" r="2.3"/><circle cx="258.1" cy="645.0" r="2.3"/><circle cx="258.1" cy="653.6" r="2.3"/><circle cx="258.1" cy="654.1" r="2.3"/><circle cx="258.1" cy="655.4" r="2.3"/><circle cx="258.1" cy="656.7" r="2.3"/><circle cx="258.1" cy="657.2" r="2.3"/><circle cx="258.1" cy="658.2" r="2.3"/><circle cx="258.1" cy="659.6" r="2.3"/><circle cx="258.1" cy="660.5" r="2.3"/><circle cx="258.1" cy="661.7" r="2.3"/><circle cx="258.1" cy="662.4" r="2.3"/><circle cx="258.1" cy="677.2" r="2.3"/><circle cx="258.1" cy="741.6" r="2.3"/><circle cx="283.8" cy="630.5" r="2.3"/><circle cx="283.8" cy="635.0" r="2.3"/><circle cx="283.8" cy="635.7" r="2.3"/><circle cx="283.8" cy="636.4" r="2.3"/><circle cx="283.8" cy="637.0" r="2.3"/><circle cx="283.8" cy="637.7" r="2.3"/><circle cx="283.8" cy="638.3" r="2.3"/><circle cx="283.8" cy="639.0" r="2.3"/><circle cx="283.8" cy="639.7" r="2.3"/><circle cx="283.8" cy="640.6" r="2.3"/><circle cx="283.8" cy="640.9" r="2.3"/><circle cx="283.8" cy="641.6" r="2.3"/><circle cx="283.8" cy="642.3" r="2.3"/><circle cx="283.8" cy="642.9" r="2.3"/><circle cx="283.8" cy="643.7" r="2.3"/><circle cx="283.8" cy="644.4" r="2.3"/><circle cx="283.8" cy="644.9" r="2.3"/><circle cx="283.8" cy="645.7" r="2.3"/><circle cx="283.8" cy="646.2" r="2.3"/><circle cx="283.8" cy="646.8" r="2.3"/><circle cx="283.8" cy="647.8" r="2.3"/><circle cx="283.8" cy="648.2" r="2.3"/><circle cx="283.8" cy="649.0" r="2.3"/><circle cx="283.8" cy="649.6" r="2.3"/><circle cx="283.8" cy="650.5" r="2.3"/><circle cx="283.8" cy="650.9" r="2.3"/><circle cx="283.8" cy="651.5" r="2.3"/><circle cx="283.8" cy="652.3" r="2.3"/><circle cx="283.8" cy="653.1" r="2.3"/><circle cx="283.8" cy="653.5" r="2.3"/><circle cx="283.8" cy="654.1" r="2.3"/><circle cx="283.8" cy="654.9" r="2.3"/><circle cx="283.8" cy="655.5" r="2.3"/><circle cx="283.8" cy="656.3" r="2.3"/><circle cx="283.8" cy="657.0" r="2.3"/><circle cx="283.8" cy="657.6" r="2.3"/><circle cx="283.8" cy="658.0" r="2.3"/><circle cx="283.8" cy="658.9" r="2.3"/><circle cx="283.8" cy="659.6" r="2.3"/><circle cx="283.8" cy="660.2" r="2.3"/><circle cx="283.8" cy="660.7" r="2.3"/><circle cx="283.8" cy="661.5" r="2.3"/><circle cx="283.8" cy="662.0" r="2.3"/><circle cx="283.8" cy="663.0" r="2.3"/><circle cx="283.8" cy="663.3" r="2.3"/><circle cx="283.8" cy="664.3" r="2.3"/><circle cx="283.8" cy="665.0" r="2.3"/><circle cx="283.8" cy="665.6" r="2.3"/><circle cx="283.8" cy="666.3" r="2.3"/><circle cx="283.8" cy="666.8" r="2.3"/><circle cx="283.8" cy="667.4" r="2.3"/><circle cx="283.8" cy="668.2" r="2.3"/><circle cx="283.8" cy="668.6" r="2.3"/><circle cx="283.8" cy="669.3" r="2.3"/><circle cx="283.8" cy="670.1" r="2.3"/><circle cx="283.8" cy="670.8" r="2.3"/><circle cx="283.8" cy="671.4" r="2.3"/><circle cx="283.8" cy="672.2" r="2.3"/><circle cx="283.8" cy="672.8" r="2.3"/><circle cx="283.8" cy="673.3" r="2.3"/><circle cx="283.8" cy="674.1" r="2.3"/><circle cx="283.8" cy="674.8" r="2.3"/><circle cx="283.8" cy="675.3" r="2.3"/><circle cx="283.8" cy="676.0" r="2.3"/><circle cx="283.8" cy="676.9" r="2.3"/><circle cx="283.8" cy="677.4" r="2.3"/><circle cx="283.8" cy="678.0" r="2.3"/><circle cx="283.8" cy="678.5" r="2.3"/><circle cx="283.8" cy="679.4" r="2.3"/><circle cx="283.8" cy="680.2" r="2.3"/><circle cx="283.8" cy="680.6" r="2.3"/><circle cx="283.8" cy="715.0" r="2.3"/><circle cx="309.4" cy="618.5" r="2.3"/><circle cx="309.4" cy="625.6" r="2.3"/><circle cx="309.4" cy="631.3" r="2.3"/><circle cx="309.4" cy="632.6" r="2.3"/><circle cx="309.4" cy="634.7" r="2.3"/><circle cx="309.4" cy="636.1" r="2.3"/><circle cx="309.4" cy="637.7" r="2.3"/><circle cx="309.4" cy="639.2" r="2.3"/><circle cx="309.4" cy="640.5" r="2.3"/><circle cx="309.4" cy="642.1" r="2.3"/><circle cx="309.4" cy="643.1" r="2.3"/><circle cx="309.4" cy="644.7" r="2.3"/><circle cx="309.4" cy="646.5" r="2.3"/><circle cx="309.4" cy="647.8" r="2.3"/><circle cx="309.4" cy="649.3" r="2.3"/><circle cx="309.4" cy="650.5" r="2.3"/><circle cx="309.4" cy="652.4" r="2.3"/><circle cx="309.4" cy="654.0" r="2.3"/><circle cx="309.4" cy="658.4" r="2.3"/><circle cx="309.4" cy="659.5" r="2.3"/><circle cx="309.4" cy="660.8" r="2.3"/><circle cx="309.4" cy="661.7" r="2.3"/><circle cx="309.4" cy="662.9" r="2.3"/><circle cx="309.4" cy="663.9" r="2.3"/><circle cx="309.4" cy="664.9" r="2.3"/><circle cx="309.4" cy="665.8" r="2.3"/><circle cx="309.4" cy="666.8" r="2.3"/><circle cx="309.4" cy="668.0" r="2.3"/><circle cx="309.4" cy="669.3" r="2.3"/><circle cx="309.4" cy="676.0" r="2.3"/><circle cx="335.1" cy="627.0" r="2.3"/><circle cx="335.1" cy="639.7" r="2.3"/><circle cx="335.1" cy="641.3" r="2.3"/><circle cx="335.1" cy="642.7" r="2.3"/><circle cx="335.1" cy="644.3" r="2.3"/><circle cx="335.1" cy="646.1" r="2.3"/><circle cx="335.1" cy="656.4" r="2.3"/><circle cx="335.1" cy="657.6" r="2.3"/><circle cx="335.1" cy="659.6" r="2.3"/><circle cx="335.1" cy="660.3" r="2.3"/><circle cx="335.1" cy="662.1" r="2.3"/><circle cx="335.1" cy="663.3" r="2.3"/><circle cx="335.1" cy="664.3" r="2.3"/><circle cx="335.1" cy="665.7" r="2.3"/><circle cx="335.1" cy="667.0" r="2.3"/><circle cx="335.1" cy="667.9" r="2.3"/><circle cx="335.1" cy="669.1" r="2.3"/><circle cx="335.1" cy="670.4" r="2.3"/><circle cx="335.1" cy="672.1" r="2.3"/><circle cx="335.1" cy="673.0" r="2.3"/><circle cx="335.1" cy="674.9" r="2.3"/><circle cx="335.1" cy="676.0" r="2.3"/><circle cx="335.1" cy="676.7" r="2.3"/><circle cx="335.1" cy="678.1" r="2.3"/><circle cx="335.1" cy="679.7" r="2.3"/><circle cx="335.1" cy="680.6" r="2.3"/><circle cx="335.1" cy="681.8" r="2.3"/><circle cx="335.1" cy="683.1" r="2.3"/><circle cx="335.1" cy="685.0" r="2.3"/><circle cx="335.1" cy="686.2" r="2.3"/><circle cx="335.1" cy="687.0" r="2.3"/><circle cx="335.1" cy="688.9" r="2.3"/><circle cx="335.1" cy="689.8" r="2.3"/><circle cx="335.1" cy="691.2" r="2.3"/><circle cx="335.1" cy="692.6" r="2.3"/><circle cx="335.1" cy="693.8" r="2.3"/><circle cx="335.1" cy="695.1" r="2.3"/><circle cx="335.1" cy="696.1" r="2.3"/><circle cx="335.1" cy="697.2" r="2.3"/><circle cx="335.1" cy="698.5" r="2.3"/><circle cx="335.1" cy="699.6" r="2.3"/><circle cx="335.1" cy="701.6" r="2.3"/><circle cx="335.1" cy="702.8" r="2.3"/><circle cx="335.1" cy="704.0" r="2.3"/><circle cx="335.1" cy="704.8" r="2.3"/><circle cx="335.1" cy="706.5" r="2.3"/><circle cx="335.1" cy="707.7" r="2.3"/><circle cx="335.1" cy="708.9" r="2.3"/><circle cx="335.1" cy="709.9" r="2.3"/><circle cx="335.1" cy="720.7" r="2.3"/><circle cx="360.7" cy="627.2" r="2.3"/><circle cx="360.7" cy="632.2" r="2.3"/><circle cx="360.7" cy="633.3" r="2.3"/><circle cx="360.7" cy="634.1" r="2.3"/><circle cx="360.7" cy="635.2" r="2.3"/><circle cx="360.7" cy="636.2" r="2.3"/><circle cx="360.7" cy="636.8" r="2.3"/><circle cx="360.7" cy="637.8" r="2.3"/><circle cx="360.7" cy="638.8" r="2.3"/><circle cx="360.7" cy="639.6" r="2.3"/><circle cx="360.7" cy="640.4" r="2.3"/><circle cx="360.7" cy="641.5" r="2.3"/><circle cx="360.7" cy="642.5" r="2.3"/><circle cx="360.7" cy="643.4" r="2.3"/><circle cx="360.7" cy="644.2" r="2.3"/><circle cx="360.7" cy="645.2" r="2.3"/><circle cx="360.7" cy="646.0" r="2.3"/><circle cx="360.7" cy="646.9" r="2.3"/><circle cx="360.7" cy="647.7" r="2.3"/><circle cx="360.7" cy="648.5" r="2.3"/><circle cx="360.7" cy="649.6" r="2.3"/><circle cx="360.7" cy="650.2" r="2.3"/><circle cx="360.7" cy="651.3" r="2.3"/><circle cx="360.7" cy="652.4" r="2.3"/><circle cx="360.7" cy="653.3" r="2.3"/><circle cx="360.7" cy="654.2" r="2.3"/><circle cx="360.7" cy="654.9" r="2.3"/><circle cx="360.7" cy="655.9" r="2.3"/><circle cx="360.7" cy="656.8" r="2.3"/><circle cx="360.7" cy="657.8" r="2.3"/><circle cx="360.7" cy="658.6" r="2.3"/><circle cx="360.7" cy="659.6" r="2.3"/><circle cx="360.7" cy="660.7" r="2.3"/><circle cx="360.7" cy="661.2" r="2.3"/><circle cx="360.7" cy="662.3" r="2.3"/><circle cx="360.7" cy="663.3" r="2.3"/><circle cx="360.7" cy="664.0" r="2.3"/><circle cx="360.7" cy="664.9" r="2.3"/><circle cx="360.7" cy="666.1" r="2.3"/><circle cx="360.7" cy="666.5" r="2.3"/><circle cx="360.7" cy="667.7" r="2.3"/><circle cx="360.7" cy="668.4" r="2.3"/><circle cx="360.7" cy="669.6" r="2.3"/><circle cx="360.7" cy="670.6" r="2.3"/><circle cx="360.7" cy="671.3" r="2.3"/><circle cx="360.7" cy="672.0" r="2.3"/><circle cx="360.7" cy="673.1" r="2.3"/><circle cx="360.7" cy="674.0" r="2.3"/><circle cx="360.7" cy="675.0" r="2.3"/><circle cx="360.7" cy="675.8" r="2.3"/><circle cx="360.7" cy="676.8" r="2.3"/><circle cx="360.7" cy="677.8" r="2.3"/><circle cx="360.7" cy="678.5" r="2.3"/><circle cx="360.7" cy="679.4" r="2.3"/><circle cx="360.7" cy="680.6" r="2.3"/><circle cx="360.7" cy="681.1" r="2.3"/><circle cx="360.7" cy="682.2" r="2.3"/><circle cx="386.3" cy="608.1" r="2.3"/><circle cx="386.3" cy="610.4" r="2.3"/><circle cx="386.3" cy="612.1" r="2.3"/><circle cx="386.3" cy="613.2" r="2.3"/><circle cx="386.3" cy="628.1" r="2.3"/><circle cx="386.3" cy="629.7" r="2.3"/><circle cx="386.3" cy="631.5" r="2.3"/><circle cx="386.3" cy="638.7" r="2.3"/><circle cx="386.3" cy="640.2" r="2.3"/><circle cx="386.3" cy="641.0" r="2.3"/><circle cx="386.3" cy="642.1" r="2.3"/><circle cx="386.3" cy="643.6" r="2.3"/><circle cx="386.3" cy="644.1" r="2.3"/><circle cx="386.3" cy="645.7" r="2.3"/><circle cx="386.3" cy="646.8" r="2.3"/><circle cx="386.3" cy="647.7" r="2.3"/><circle cx="386.3" cy="649.2" r="2.3"/><circle cx="386.3" cy="650.0" r="2.3"/><circle cx="386.3" cy="651.2" r="2.3"/><circle cx="386.3" cy="652.4" r="2.3"/><circle cx="386.3" cy="653.7" r="2.3"/><circle cx="386.3" cy="654.4" r="2.3"/><circle cx="386.3" cy="655.7" r="2.3"/><circle cx="386.3" cy="656.8" r="2.3"/><circle cx="386.3" cy="658.0" r="2.3"/><circle cx="386.3" cy="659.3" r="2.3"/><circle cx="386.3" cy="660.1" r="2.3"/><circle cx="386.3" cy="661.6" r="2.3"/><circle cx="386.3" cy="662.5" r="2.3"/><circle cx="386.3" cy="663.6" r="2.3"/><circle cx="386.3" cy="664.6" r="2.3"/><circle cx="386.3" cy="665.9" r="2.3"/><circle cx="386.3" cy="667.4" r="2.3"/><circle cx="386.3" cy="668.3" r="2.3"/><circle cx="386.3" cy="669.5" r="2.3"/><circle cx="386.3" cy="670.3" r="2.3"/><circle cx="386.3" cy="671.4" r="2.3"/><circle cx="386.3" cy="672.6" r="2.3"/><circle cx="386.3" cy="673.9" r="2.3"/><circle cx="386.3" cy="675.0" r="2.3"/><circle cx="386.3" cy="676.3" r="2.3"/><circle cx="386.3" cy="676.9" r="2.3"/><circle cx="386.3" cy="678.5" r="2.3"/><circle cx="386.3" cy="679.7" r="2.3"/><circle cx="386.3" cy="680.6" r="2.3"/><circle cx="386.3" cy="681.4" r="2.3"/><circle cx="386.3" cy="682.7" r="2.3"/><circle cx="386.3" cy="683.7" r="2.3"/><circle cx="386.3" cy="684.9" r="2.3"/><circle cx="412.0" cy="648.8" r="2.3"/><circle cx="412.0" cy="652.5" r="2.3"/><circle cx="412.0" cy="655.1" r="2.3"/><circle cx="412.0" cy="663.6" r="2.3"/><circle cx="437.6" cy="608.7" r="2.3"/><circle cx="437.6" cy="610.8" r="2.3"/><circle cx="437.6" cy="636.1" r="2.3"/><circle cx="463.3" cy="613.0" r="2.3"/><circle cx="463.3" cy="613.5" r="2.3"/><circle cx="463.3" cy="614.3" r="2.3"/><circle cx="463.3" cy="615.5" r="2.3"/><circle cx="463.3" cy="616.4" r="2.3"/><circle cx="463.3" cy="616.8" r="2.3"/><circle cx="463.3" cy="618.0" r="2.3"/><circle cx="463.3" cy="618.8" r="2.3"/><circle cx="463.3" cy="619.5" r="2.3"/><circle cx="463.3" cy="620.4" r="2.3"/><circle cx="463.3" cy="621.1" r="2.3"/><circle cx="463.3" cy="622.0" r="2.3"/><circle cx="463.3" cy="622.8" r="2.3"/><circle cx="463.3" cy="623.6" r="2.3"/><circle cx="463.3" cy="624.4" r="2.3"/><circle cx="463.3" cy="625.4" r="2.3"/><circle cx="463.3" cy="626.2" r="2.3"/><circle cx="463.3" cy="627.2" r="2.3"/><circle cx="463.3" cy="627.7" r="2.3"/><circle cx="463.3" cy="628.4" r="2.3"/><circle cx="463.3" cy="629.4" r="2.3"/><circle cx="463.3" cy="630.3" r="2.3"/><circle cx="463.3" cy="631.3" r="2.3"/><circle cx="463.3" cy="631.9" r="2.3"/><circle cx="463.3" cy="632.5" r="2.3"/><circle cx="463.3" cy="633.5" r="2.3"/><circle cx="463.3" cy="634.4" r="2.3"/><circle cx="463.3" cy="635.2" r="2.3"/><circle cx="463.3" cy="636.0" r="2.3"/><circle cx="463.3" cy="636.7" r="2.3"/><circle cx="463.3" cy="637.7" r="2.3"/><circle cx="463.3" cy="638.6" r="2.3"/><circle cx="463.3" cy="639.3" r="2.3"/><circle cx="463.3" cy="640.4" r="2.3"/><circle cx="463.3" cy="640.9" r="2.3"/><circle cx="463.3" cy="641.9" r="2.3"/><circle cx="463.3" cy="642.5" r="2.3"/><circle cx="463.3" cy="643.4" r="2.3"/><circle cx="463.3" cy="644.2" r="2.3"/><circle cx="463.3" cy="645.3" r="2.3"/><circle cx="463.3" cy="652.0" r="2.3"/><circle cx="463.3" cy="662.9" r="2.3"/><circle cx="463.3" cy="664.1" r="2.3"/><circle cx="463.3" cy="665.3" r="2.3"/><circle cx="463.3" cy="666.0" r="2.3"/><circle cx="463.3" cy="666.7" r="2.3"/><circle cx="463.3" cy="667.1" r="2.3"/><circle cx="463.3" cy="668.0" r="2.3"/><circle cx="463.3" cy="668.4" r="2.3"/><circle cx="463.3" cy="669.2" r="2.3"/><circle cx="463.3" cy="669.6" r="2.3"/><circle cx="463.3" cy="687.8" r="2.3"/><circle cx="488.9" cy="648.8" r="2.3"/><circle cx="488.9" cy="654.1" r="2.3"/><circle cx="488.9" cy="662.5" r="2.3"/><circle cx="488.9" cy="665.0" r="2.3"/><circle cx="488.9" cy="668.0" r="2.3"/><circle cx="488.9" cy="671.0" r="2.3"/><circle cx="488.9" cy="669.0" r="2.3"/><circle cx="514.6" cy="643.7" r="2.3"/><circle cx="514.6" cy="650.2" r="2.3"/><circle cx="540.2" cy="662.0" r="2.3"/><circle cx="565.9" cy="625.7" r="2.3"/><circle cx="565.9" cy="640.4" r="2.3"/><circle cx="565.9" cy="641.5" r="2.3"/><circle cx="565.9" cy="644.9" r="2.3"/><circle cx="565.9" cy="647.0" r="2.3"/><circle cx="565.9" cy="648.6" r="2.3"/><circle cx="565.9" cy="656.1" r="2.3"/><circle cx="565.9" cy="657.5" r="2.3"/><circle cx="565.9" cy="659.1" r="2.3"/><circle cx="565.9" cy="660.7" r="2.3"/><circle cx="565.9" cy="662.5" r="2.3"/><circle cx="565.9" cy="664.8" r="2.3"/><circle cx="565.9" cy="666.4" r="2.3"/><circle cx="565.9" cy="668.0" r="2.3"/><circle cx="565.9" cy="668.8" r="2.3"/><circle cx="565.9" cy="670.6" r="2.3"/><circle cx="565.9" cy="672.9" r="2.3"/><circle cx="565.9" cy="673.7" r="2.3"/><circle cx="565.9" cy="676.0" r="2.3"/><circle cx="565.9" cy="677.2" r="2.3"/><circle cx="565.9" cy="679.5" r="2.3"/><circle cx="565.9" cy="680.2" r="2.3"/><circle cx="565.9" cy="682.6" r="2.3"/><circle cx="565.9" cy="683.7" r="2.3"/><circle cx="565.9" cy="685.2" r="2.3"/><circle cx="565.9" cy="686.7" r="2.3"/><circle cx="565.9" cy="689.1" r="2.3"/><circle cx="565.9" cy="690.5" r="2.3"/><circle cx="565.9" cy="691.8" r="2.3"/><circle cx="565.9" cy="693.6" r="2.3"/><circle cx="565.9" cy="695.8" r="2.3"/><circle cx="565.9" cy="696.7" r="2.3"/><circle cx="591.5" cy="617.1" r="2.3"/><circle cx="591.5" cy="618.2" r="2.3"/><circle cx="591.5" cy="618.7" r="2.3"/><circle cx="591.5" cy="619.4" r="2.3"/><circle cx="591.5" cy="620.7" r="2.3"/><circle cx="591.5" cy="621.5" r="2.3"/><circle cx="591.5" cy="621.8" r="2.3"/><circle cx="591.5" cy="623.1" r="2.3"/><circle cx="591.5" cy="623.8" r="2.3"/><circle cx="591.5" cy="624.8" r="2.3"/><circle cx="591.5" cy="625.4" r="2.3"/><circle cx="591.5" cy="626.3" r="2.3"/><circle cx="591.5" cy="627.2" r="2.3"/><circle cx="591.5" cy="627.6" r="2.3"/><circle cx="591.5" cy="628.5" r="2.3"/><circle cx="591.5" cy="629.3" r="2.3"/><circle cx="591.5" cy="630.1" r="2.3"/><circle cx="591.5" cy="631.0" r="2.3"/><circle cx="591.5" cy="631.8" r="2.3"/><circle cx="591.5" cy="632.6" r="2.3"/><circle cx="591.5" cy="633.6" r="2.3"/><circle cx="591.5" cy="634.3" r="2.3"/><circle cx="591.5" cy="635.1" r="2.3"/><circle cx="591.5" cy="636.3" r="2.3"/><circle cx="591.5" cy="637.1" r="2.3"/><circle cx="591.5" cy="638.0" r="2.3"/><circle cx="591.5" cy="638.4" r="2.3"/><circle cx="591.5" cy="639.5" r="2.3"/><circle cx="591.5" cy="640.5" r="2.3"/><circle cx="591.5" cy="641.0" r="2.3"/><circle cx="591.5" cy="641.9" r="2.3"/><circle cx="591.5" cy="642.9" r="2.3"/><circle cx="591.5" cy="643.7" r="2.3"/><circle cx="591.5" cy="644.4" r="2.3"/><circle cx="591.5" cy="645.1" r="2.3"/><circle cx="591.5" cy="646.1" r="2.3"/><circle cx="591.5" cy="647.0" r="2.3"/><circle cx="591.5" cy="647.6" r="2.3"/><circle cx="591.5" cy="648.5" r="2.3"/><circle cx="591.5" cy="649.4" r="2.3"/><circle cx="591.5" cy="650.0" r="2.3"/><circle cx="591.5" cy="650.9" r="2.3"/><circle cx="591.5" cy="651.8" r="2.3"/><circle cx="591.5" cy="652.6" r="2.3"/><circle cx="591.5" cy="653.6" r="2.3"/><circle cx="591.5" cy="654.2" r="2.3"/><circle cx="591.5" cy="655.1" r="2.3"/><circle cx="591.5" cy="656.1" r="2.3"/><circle cx="591.5" cy="656.5" r="2.3"/><circle cx="591.5" cy="657.5" r="2.3"/><circle cx="591.5" cy="658.3" r="2.3"/><circle cx="591.5" cy="659.3" r="2.3"/><circle cx="591.5" cy="660.3" r="2.3"/><circle cx="591.5" cy="660.8" r="2.3"/><circle cx="591.5" cy="666.4" r="2.3"/><circle cx="591.5" cy="675.6" r="2.3"/><circle cx="591.5" cy="679.7" r="2.3"/><circle cx="591.5" cy="684.8" r="2.3"/><circle cx="591.5" cy="676.0" r="2.3"/><circle cx="617.1" cy="673.6" r="2.3"/><circle cx="617.1" cy="673.6" r="2.3"/><circle cx="642.8" cy="620.1" r="2.3"/><circle cx="642.8" cy="621.0" r="2.3"/><circle cx="642.8" cy="628.1" r="2.3"/><circle cx="642.8" cy="630.2" r="2.3"/><circle cx="642.8" cy="632.4" r="2.3"/><circle cx="642.8" cy="634.7" r="2.3"/><circle cx="642.8" cy="641.9" r="2.3"/><circle cx="642.8" cy="644.1" r="2.3"/><circle cx="642.8" cy="646.5" r="2.3"/><circle cx="642.8" cy="647.6" r="2.3"/><circle cx="642.8" cy="649.7" r="2.3"/><circle cx="642.8" cy="657.2" r="2.3"/><circle cx="642.8" cy="664.4" r="2.3"/><circle cx="642.8" cy="672.6" r="2.3"/><circle cx="642.8" cy="674.6" r="2.3"/><circle cx="642.8" cy="679.7" r="2.3"/><circle cx="642.8" cy="697.0" r="2.3"/><circle cx="642.8" cy="701.1" r="2.3"/><circle cx="642.8" cy="672.6" r="2.3"/><circle cx="642.8" cy="679.7" r="2.3"/><circle cx="642.8" cy="664.4" r="2.3"/><circle cx="642.8" cy="674.6" r="2.3"/><circle cx="642.8" cy="679.7" r="2.3"/></g>
<line x1="58" y1="589.5" x2="58" y2="757.3" stroke="#222" stroke-width="1.2"/>
<line x1="57.4" y1="756.7" x2="653" y2="756.7" stroke="#222" stroke-width="1.2"/>
<line x1="54" y1="594.5" x2="58" y2="594.5" stroke="#222" stroke-width="1"/>
<text x="51" y="597.5" font-size="8.5" fill="#222" text-anchor="end">9</text>
<line x1="54" y1="623.65" x2="58" y2="623.65" stroke="#222" stroke-width="1"/>
<text x="51" y="626.65" font-size="8.5" fill="#222" text-anchor="end">8</text>
<line x1="54" y1="652.8" x2="58" y2="652.8" stroke="#222" stroke-width="1"/>
<text x="51" y="655.8" font-size="8.5" fill="#222" text-anchor="end">7</text>
<line x1="54" y1="681.95" x2="58" y2="681.95" stroke="#222" stroke-width="1"/>
<text x="51" y="684.95" font-size="8.5" fill="#222" text-anchor="end">6</text>
<line x1="54" y1="711.1" x2="58" y2="711.1" stroke="#222" stroke-width="1"/>
<text x="51" y="714.1" font-size="8.5" fill="#222" text-anchor="end">5</text>
<line x1="54" y1="740.25" x2="58" y2="740.25" stroke="#222" stroke-width="1"/>
<text x="51" y="743.25" font-size="8.5" fill="#222" text-anchor="end">4</text>
<line x1="73.5" y1="756.7" x2="73.5" y2="760.7" stroke="#222" stroke-width="1"/>
<text transform="translate(78.0,768.5) rotate(-45)" font-size="8.5" fill="#222" text-anchor="end">BLCA</text>
<line x1="99.145" y1="756.7" x2="99.145" y2="760.7" stroke="#222" stroke-width="1"/>
<text transform="translate(103.645,768.5) rotate(-45)" font-size="8.5" fill="#222" text-anchor="end">BRCA</text>
<line x1="124.78999999999999" y1="756.7" x2="124.78999999999999" y2="760.7" stroke="#222" stroke-width="1"/>
<text transform="translate(129.29,768.5) rotate(-45)" font-size="8.5" fill="#222" text-anchor="end">CESC</text>
<line x1="150.435" y1="756.7" x2="150.435" y2="760.7" stroke="#222" stroke-width="1"/>
<text transform="translate(154.935,768.5) rotate(-45)" font-size="8.5" fill="#222" text-anchor="end">CHOL</text>
<line x1="176.07999999999998" y1="756.7" x2="176.07999999999998" y2="760.7" stroke="#222" stroke-width="1"/>
<text transform="translate(180.57999999999998,768.5) rotate(-45)" font-size="8.5" fill="#222" text-anchor="end">COAD</text>
<line x1="201.725" y1="756.7" x2="201.725" y2="760.7" stroke="#222" stroke-width="1"/>
<text transform="translate(206.225,768.5) rotate(-45)" font-size="8.5" fill="#222" text-anchor="end">ESCA</text>
<line x1="227.37" y1="756.7" x2="227.37" y2="760.7" stroke="#222" stroke-width="1"/>
<text transform="translate(231.87,768.5) rotate(-45)" font-size="8.5" fill="#222" text-anchor="end">HNSC</text>
<line x1="253.015" y1="756.7" x2="253.015" y2="760.7" stroke="#222" stroke-width="1"/>
<text transform="translate(257.515,768.5) rotate(-45)" font-size="8.5" fill="#222" text-anchor="end">KICH</text>
<line x1="278.65999999999997" y1="756.7" x2="278.65999999999997" y2="760.7" stroke="#222" stroke-width="1"/>
<text transform="translate(283.15999999999997,768.5) rotate(-45)" font-size="8.5" fill="#222" text-anchor="end">KIRC</text>
<line x1="304.305" y1="756.7" x2="304.305" y2="760.7" stroke="#222" stroke-width="1"/>
<text transform="translate(308.805,768.5) rotate(-45)" font-size="8.5" fill="#222" text-anchor="end">KIRP</text>
<line x1="329.95" y1="756.7" x2="329.95" y2="760.7" stroke="#222" stroke-width="1"/>
<text transform="translate(334.45,768.5) rotate(-45)" font-size="8.5" fill="#222" text-anchor="end">LIHC</text>
<line x1="355.59499999999997" y1="756.7" x2="355.59499999999997" y2="760.7" stroke="#222" stroke-width="1"/>
<text transform="translate(360.09499999999997,768.5) rotate(-45)" font-size="8.5" fill="#222" text-anchor="end">LUAD</text>
<line x1="381.24" y1="756.7" x2="381.24" y2="760.7" stroke="#222" stroke-width="1"/>
<text transform="translate(385.74,768.5) rotate(-45)" font-size="8.5" fill="#222" text-anchor="end">LUSC</text>
<line x1="406.885" y1="756.7" x2="406.885" y2="760.7" stroke="#222" stroke-width="1"/>
<text transform="translate(411.385,768.5) rotate(-45)" font-size="8.5" fill="#222" text-anchor="end">PAAD</text>
<line x1="432.53" y1="756.7" x2="432.53" y2="760.7" stroke="#222" stroke-width="1"/>
<text transform="translate(437.03,768.5) rotate(-45)" font-size="8.5" fill="#222" text-anchor="end">PCPG</text>
<line x1="458.175" y1="756.7" x2="458.175" y2="760.7" stroke="#222" stroke-width="1"/>
<text transform="translate(462.675,768.5) rotate(-45)" font-size="8.5" fill="#222" text-anchor="end">PRAD</text>
<line x1="483.82" y1="756.7" x2="483.82" y2="760.7" stroke="#222" stroke-width="1"/>
<text transform="translate(488.32,768.5) rotate(-45)" font-size="8.5" fill="#222" text-anchor="end">READ</text>
<line x1="509.465" y1="756.7" x2="509.465" y2="760.7" stroke="#222" stroke-width="1"/>
<text transform="translate(513.9649999999999,768.5) rotate(-45)" font-size="8.5" fill="#222" text-anchor="end">SARC</text>
<line x1="535.11" y1="756.7" x2="535.11" y2="760.7" stroke="#222" stroke-width="1"/>
<text transform="translate(539.61,768.5) rotate(-45)" font-size="8.5" fill="#222" text-anchor="end">SKCM</text>
<line x1="560.755" y1="756.7" x2="560.755" y2="760.7" stroke="#222" stroke-width="1"/>
<text transform="translate(565.255,768.5) rotate(-45)" font-size="8.5" fill="#222" text-anchor="end">STAD</text>
<line x1="586.4" y1="756.7" x2="586.4" y2="760.7" stroke="#222" stroke-width="1"/>
<text transform="translate(590.9,768.5) rotate(-45)" font-size="8.5" fill="#222" text-anchor="end">THCA</text>
<line x1="612.045" y1="756.7" x2="612.045" y2="760.7" stroke="#222" stroke-width="1"/>
<text transform="translate(616.545,768.5) rotate(-45)" font-size="8.5" fill="#222" text-anchor="end">THYM</text>
<line x1="637.6899999999999" y1="756.7" x2="637.6899999999999" y2="760.7" stroke="#222" stroke-width="1"/>
<text transform="translate(642.1899999999999,768.5) rotate(-45)" font-size="8.5" fill="#222" text-anchor="end">UCEC</text>
<text transform="translate(28.1,672.8) rotate(-90)" font-size="10" fill="#222" text-anchor="middle">The expression of ATP6AP1</text>
<text transform="translate(37.8,672.5) rotate(-90)" font-size="10" fill="#222" text-anchor="middle">Log<tspan font-size="7.20" dy="3.00">2</tspan><tspan dy="-3.00"> (TPM+1)</tspan></text>
<circle cx="662.5" cy="669.5" r="2.5" fill="#4DBBD5"/>
<circle cx="662.5" cy="679.8" r="2.5" fill="#E64B35"/>
<text x="672" y="672.6" font-size="8.5" fill="#222">Normal</text>
<text x="672" y="682.9" font-size="8.5" fill="#222">Tumor</text>
<line x1="105" y1="852.5" x2="105" y2="1086.6" stroke="#222" stroke-width="1.2"/>
<line x1="104.4" y1="1086" x2="311.2" y2="1086" stroke="#222" stroke-width="1.2"/>
<line x1="100" y1="1085.5" x2="105" y2="1085.5" stroke="#222" stroke-width="1"/>
<text x="96.5" y="1089.4" font-size="11" fill="#222" text-anchor="end">3</text>
<line x1="100" y1="1044.0" x2="105" y2="1044.0" stroke="#222" stroke-width="1"/>
<text x="96.5" y="1047.9" font-size="11" fill="#222" text-anchor="end">4</text>
<line x1="100" y1="1002.5" x2="105" y2="1002.5" stroke="#222" stroke-width="1"/>
<text x="96.5" y="1006.4" font-size="11" fill="#222" text-anchor="end">5</text>
<line x1="100" y1="961.0" x2="105" y2="961.0" stroke="#222" stroke-width="1"/>
<text x="96.5" y="964.9" font-size="11" fill="#222" text-anchor="end">6</text>
<line x1="100" y1="919.5" x2="105" y2="919.5" stroke="#222" stroke-width="1"/>
<text x="96.5" y="923.4" font-size="11" fill="#222" text-anchor="end">7</text>
<line x1="100" y1="878.0" x2="105" y2="878.0" stroke="#222" stroke-width="1"/>
<text x="96.5" y="881.9" font-size="11" fill="#222" text-anchor="end">8</text>
<line x1="161.4" y1="1086" x2="161.4" y2="1090.5" stroke="#222" stroke-width="1"/>
<text x="161.4" y="1103.3" font-size="11" fill="#222" text-anchor="middle">Normal</text>
<line x1="254.6" y1="1086" x2="254.6" y2="1090.5" stroke="#222" stroke-width="1"/>
<text x="254.6" y="1103.3" font-size="11" fill="#222" text-anchor="middle">Tumor</text>
<text x="214" y="1125.1" font-size="11" fill="#222" text-anchor="middle">TCGA COAD</text>
<line x1="161.4" y1="931.25" x2="161.4" y2="965" stroke="#111" stroke-width="1.3"/>
<rect x="123.7" y="939.3" width="75.4" height="11.200000000000045" fill="#4DBBD5" stroke="#111" stroke-width="1.1"/>
<line x1="123.7" y1="944.3" x2="199.10000000000002" y2="944.3" stroke="#000" stroke-width="2.2"/>
<circle cx="161.4" cy="966.5" r="1.6" fill="#3a3a3a"/>
<circle cx="161.4" cy="968" r="1.6" fill="#3a3a3a"/>
<line x1="254.6" y1="878.75" x2="254.6" y2="973" stroke="#111" stroke-width="1.3"/>
<rect x="216.89999999999998" y="912.5" width="75.4" height="26.5" fill="#E64B35" stroke="#111" stroke-width="1.1"/>
<line x1="216.89999999999998" y1="926.25" x2="292.3" y2="926.25" stroke="#000" stroke-width="2.2"/>
<circle cx="254.6" cy="868.8" r="1.6" fill="#3a3a3a"/>
<circle cx="254.6" cy="871.3" r="1.6" fill="#3a3a3a"/>
<circle cx="254.6" cy="981.9" r="1.6" fill="#3a3a3a"/>
<circle cx="254.6" cy="983.6" r="1.6" fill="#3a3a3a"/>
<circle cx="254.6" cy="985.3" r="1.6" fill="#3a3a3a"/>
<circle cx="254.6" cy="987" r="1.6" fill="#3a3a3a"/>
<circle cx="254.6" cy="988.7" r="1.6" fill="#3a3a3a"/>
<circle cx="254.6" cy="992" r="1.6" fill="#3a3a3a"/>
<circle cx="254.6" cy="1003.2" r="1.6" fill="#3a3a3a"/>
<circle cx="254.6" cy="1005.6" r="1.6" fill="#3a3a3a"/>
<circle cx="254.6" cy="1008.9" r="1.6" fill="#3a3a3a"/>
<circle cx="254.6" cy="1010.6" r="1.6" fill="#3a3a3a"/>
<circle cx="254.6" cy="1012.3" r="1.6" fill="#3a3a3a"/>
<circle cx="254.6" cy="1013.3" r="1.6" fill="#3a3a3a"/>
<circle cx="254.6" cy="1020.1" r="1.6" fill="#3a3a3a"/>
<circle cx="254.6" cy="1031.6" r="1.6" fill="#3a3a3a"/>
<circle cx="254.6" cy="1046.1" r="1.6" fill="#3a3a3a"/>
<circle cx="254.6" cy="1051.8" r="1.6" fill="#3a3a3a"/>
<circle cx="254.6" cy="1066.7" r="1.6" fill="#3a3a3a"/>
<path d="M161.4,867.3 L161.4,862.8 L254.6,862.8 L254.6,867.3" fill="none" stroke="#111" stroke-width="1.3"/>
<text x="208" y="864" font-size="10.5" fill="#111" text-anchor="middle">***</text>
<text transform="translate(65.8,969) rotate(-90)" font-size="13.2" fill="#222" text-anchor="middle">The expression of ATP6AP1</text>
<text transform="translate(79.2,967.2) rotate(-90)" font-size="13.2" fill="#222" text-anchor="middle">Log<tspan font-size="9.50" dy="3.96">2</tspan><tspan dy="-3.96"> (TPM+1)</tspan></text>
<line x1="414.3" y1="852.5" x2="414.3" y2="1086.6" stroke="#222" stroke-width="1.2"/>
<line x1="413.7" y1="1086" x2="619.5" y2="1086" stroke="#222" stroke-width="1.2"/>
<line x1="409.3" y1="1074.98" x2="414.3" y2="1074.98" stroke="#222" stroke-width="1"/>
<text x="405.8" y="1078.88" font-size="11" fill="#222" text-anchor="end">0</text>
<line x1="409.3" y1="1021.86" x2="414.3" y2="1021.86" stroke="#222" stroke-width="1"/>
<text x="405.8" y="1025.76" font-size="11" fill="#222" text-anchor="end">2</text>
<line x1="409.3" y1="968.74" x2="414.3" y2="968.74" stroke="#222" stroke-width="1"/>
<text x="405.8" y="972.64" font-size="11" fill="#222" text-anchor="end">4</text>
<line x1="409.3" y1="915.62" x2="414.3" y2="915.62" stroke="#222" stroke-width="1"/>
<text x="405.8" y="919.52" font-size="11" fill="#222" text-anchor="end">6</text>
<line x1="409.3" y1="862.5" x2="414.3" y2="862.5" stroke="#222" stroke-width="1"/>
<text x="405.8" y="866.4" font-size="11" fill="#222" text-anchor="end">8</text>
<line x1="470.1" y1="1086" x2="470.1" y2="1090.5" stroke="#222" stroke-width="1"/>
<text x="470.1" y="1103.3" font-size="11" fill="#222" text-anchor="middle">Normal</text>
<line x1="563.4" y1="1086" x2="563.4" y2="1090.5" stroke="#222" stroke-width="1"/>
<text x="563.4" y="1103.3" font-size="11" fill="#222" text-anchor="middle">Tumor</text>
<text x="519.4" y="1125.1" font-size="11" fill="#222" text-anchor="middle">TCGA READ</text>
<line x1="470.1" y1="903.5" x2="470.1" y2="942.5" stroke="#111" stroke-width="1.3"/>
<rect x="432.40000000000003" y="915.75" width="75.4" height="11.25" fill="#4DBBD5" stroke="#111" stroke-width="1.1"/>
<line x1="432.40000000000003" y1="921.25" x2="507.8" y2="921.25" stroke="#000" stroke-width="2.2"/>
<circle cx="470.1" cy="893.8" r="1.6" fill="#3a3a3a"/>
<circle cx="470.1" cy="897" r="1.6" fill="#3a3a3a"/>
<circle cx="470.1" cy="945" r="1.6" fill="#3a3a3a"/>
<circle cx="470.1" cy="959.5" r="1.6" fill="#3a3a3a"/>
<circle cx="470.1" cy="963" r="1.6" fill="#3a3a3a"/>
<circle cx="470.1" cy="1075.4" r="1.6" fill="#3a3a3a"/>
<line x1="563.4" y1="876.25" x2="563.4" y2="922.5" stroke="#111" stroke-width="1.3"/>
<rect x="525.6999999999999" y="891.25" width="75.4" height="13.0" fill="#E64B35" stroke="#111" stroke-width="1.1"/>
<line x1="525.6999999999999" y1="898.25" x2="601.1" y2="898.25" stroke="#000" stroke-width="2.2"/>
<circle cx="563.4" cy="868.8" r="1.6" fill="#3a3a3a"/>
<circle cx="563.4" cy="929.5" r="1.6" fill="#3a3a3a"/>
<circle cx="563.4" cy="938" r="1.6" fill="#3a3a3a"/>
<path d="M470.1,867.3 L470.1,862.8 L563.4,862.8 L563.4,867.3" fill="none" stroke="#111" stroke-width="1.3"/>
<text x="517" y="864" font-size="10.5" fill="#111" text-anchor="middle">***</text>
<text transform="translate(375,969) rotate(-90)" font-size="13.2" fill="#222" text-anchor="middle">The expression of ATP6AP1</text>
<text transform="translate(388.4,967.2) rotate(-90)" font-size="13.2" fill="#222" text-anchor="middle">Log<tspan font-size="9.50" dy="3.96">2</tspan><tspan dy="-3.96"> (TPM+1)</tspan></text>
</svg></body></html>
